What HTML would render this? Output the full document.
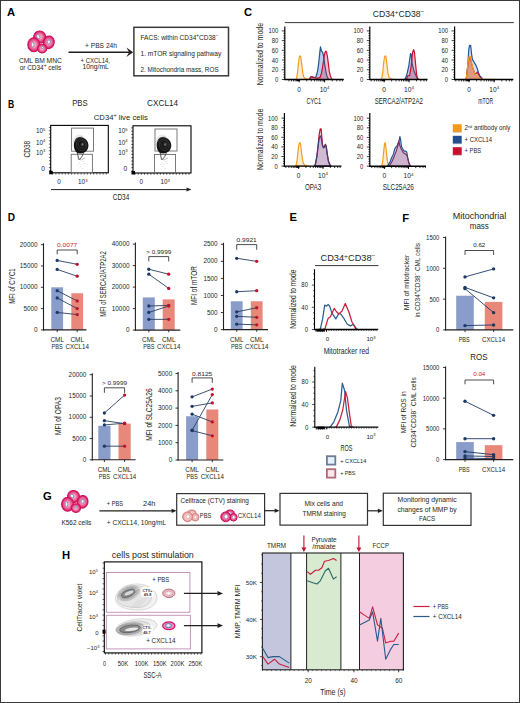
<!DOCTYPE html>
<html><head><meta charset="utf-8"><style>
html,body{margin:0;padding:0;background:#fff;}
svg{display:block;}
text{font-family:"Liberation Sans", sans-serif;}
</style></head><body>
<svg width="520" height="703" viewBox="0 0 520 703">
<defs>
<radialGradient id="cellg" cx="50%" cy="50%" r="50%">
<stop offset="0%" stop-color="#fcd6e4"/><stop offset="50%" stop-color="#f27aa6"/><stop offset="100%" stop-color="#d41462"/>
</radialGradient>
<radialGradient id="cellg2" cx="50%" cy="50%" r="50%">
<stop offset="0%" stop-color="#fff2f0"/><stop offset="60%" stop-color="#f6c4c0"/><stop offset="100%" stop-color="#e08a88"/>
</radialGradient>
</defs>
<rect x="0.5" y="0.5" width="519" height="702" fill="#fff" stroke="#3a3a3a" stroke-width="1"/>
<text x="7.00" y="16.20" font-size="11.2" fill="#000" font-weight="bold" >A</text>
<g transform="rotate(-30 39.70 37.00)">
<ellipse cx="39.70" cy="37.00" rx="6.00" ry="6.00" fill="url(#cellg)" stroke="#d0105a" stroke-width="1.10"/>
<ellipse cx="38.70" cy="35.90" rx="1.50" ry="2.20" fill="#f4f6ff" stroke="#7080a8" stroke-width="0.80"/>
</g>
<g transform="rotate(10 48.80 42.30)">
<ellipse cx="48.80" cy="42.30" rx="5.40" ry="6.30" fill="url(#cellg)" stroke="#d0105a" stroke-width="1.10"/>
<ellipse cx="48.70" cy="41.90" rx="1.60" ry="2.00" fill="#f4f6ff" stroke="#7080a8" stroke-width="0.80"/>
</g>
<g transform="rotate(0 33.80 44.70)">
<ellipse cx="33.80" cy="44.70" rx="6.00" ry="7.00" fill="url(#cellg)" stroke="#d0105a" stroke-width="1.10"/>
<ellipse cx="32.70" cy="44.70" rx="1.40" ry="2.40" fill="#f4f6ff" stroke="#7080a8" stroke-width="0.80"/>
</g>
<g transform="rotate(0 42.10 48.60)">
<ellipse cx="42.10" cy="48.60" rx="4.60" ry="4.40" fill="url(#cellg)" stroke="#d0105a" stroke-width="1.10"/>
<ellipse cx="42.30" cy="47.50" rx="1.10" ry="1.10" fill="#f4f6ff" stroke="#7080a8" stroke-width="0.80"/>
</g>
<text x="40.40" y="63.00" font-size="6.6" fill="#231f20" text-anchor="middle" textLength="43" lengthAdjust="spacingAndGlyphs" >CML BM MNC</text>
<text x="40.40" y="70.20" font-size="6.6" fill="#231f20" text-anchor="middle" textLength="41.5" lengthAdjust="spacingAndGlyphs" >or CD34<tspan font-size="4.8" dy="-2.9">+</tspan><tspan dy="2.9"> cells</tspan></text>
<line x1="68.50" y1="52.20" x2="129.30" y2="52.20" stroke="#231f20" stroke-width="1.4" />
<path d="M133.20,52.20 L126.37,47.52 L129.17,52.20 L126.37,56.88 Z" fill="#231f20" stroke="none" stroke-width="1" />
<text x="85.00" y="48.00" font-size="6.6" fill="#231f20" textLength="32" lengthAdjust="spacingAndGlyphs" >+ PBS  24h</text>
<text x="80.50" y="62.90" font-size="6.6" fill="#231f20" textLength="29.5" lengthAdjust="spacingAndGlyphs" >+ CXCL14,</text>
<text x="82.50" y="69.20" font-size="6.6" fill="#231f20" textLength="26.3" lengthAdjust="spacingAndGlyphs" >10ng/mL</text>
<rect x="133.90" y="27.30" width="94.60" height="48.50" fill="#fff" stroke="#3a3a3a" stroke-width="1.5" />
<text x="140.50" y="40.10" font-size="6.6" fill="#231f20" textLength="78" lengthAdjust="spacingAndGlyphs" >FACS: within CD34<tspan font-size="4.8" dy="-2.9">+</tspan><tspan dy="2.9">CD38</tspan><tspan font-size="4.8" dy="-2.9">−</tspan></text>
<text x="140.50" y="55.90" font-size="6.6" fill="#231f20" textLength="80.7" lengthAdjust="spacingAndGlyphs" >1. mTOR signaling pathway</text>
<text x="140.50" y="71.60" font-size="6.6" fill="#231f20" textLength="78.2" lengthAdjust="spacingAndGlyphs" >2. Mitochondria mass, ROS</text>
<text x="7.90" y="108.30" font-size="11.2" fill="#000" font-weight="bold" textLength="6.2" lengthAdjust="spacingAndGlyphs" >B</text>
<text x="79.90" y="106.30" font-size="8.6" fill="#231f20" text-anchor="middle" textLength="15.5" lengthAdjust="spacingAndGlyphs" >PBS</text>
<text x="162.60" y="106.30" font-size="8.6" fill="#231f20" text-anchor="middle" textLength="31" lengthAdjust="spacingAndGlyphs" >CXCL14</text>
<text x="93.80" y="119.60" font-size="7.0" fill="#231f20" textLength="54" lengthAdjust="spacingAndGlyphs" >CD34<tspan font-size="4.8" dy="-2.8">+</tspan><tspan dy="2.8"> live cells</tspan></text>
<rect x="50.70" y="125.40" width="57.60" height="47.40" fill="#fff" stroke="#000" stroke-width="1.1" />
<line x1="48.90" y1="127.40" x2="50.70" y2="127.40" stroke="#000" stroke-width="0.6" />
<line x1="48.90" y1="130.74" x2="50.70" y2="130.74" stroke="#000" stroke-width="0.6" />
<line x1="48.90" y1="134.08" x2="50.70" y2="134.08" stroke="#000" stroke-width="0.6" />
<line x1="48.90" y1="137.42" x2="50.70" y2="137.42" stroke="#000" stroke-width="0.6" />
<line x1="48.90" y1="140.75" x2="50.70" y2="140.75" stroke="#000" stroke-width="0.6" />
<line x1="48.90" y1="144.09" x2="50.70" y2="144.09" stroke="#000" stroke-width="0.6" />
<line x1="48.90" y1="147.43" x2="50.70" y2="147.43" stroke="#000" stroke-width="0.6" />
<line x1="48.90" y1="150.77" x2="50.70" y2="150.77" stroke="#000" stroke-width="0.6" />
<line x1="48.90" y1="154.11" x2="50.70" y2="154.11" stroke="#000" stroke-width="0.6" />
<line x1="48.90" y1="157.45" x2="50.70" y2="157.45" stroke="#000" stroke-width="0.6" />
<line x1="48.90" y1="160.78" x2="50.70" y2="160.78" stroke="#000" stroke-width="0.6" />
<line x1="48.90" y1="164.12" x2="50.70" y2="164.12" stroke="#000" stroke-width="0.6" />
<line x1="48.90" y1="167.46" x2="50.70" y2="167.46" stroke="#000" stroke-width="0.6" />
<line x1="48.90" y1="170.80" x2="50.70" y2="170.80" stroke="#000" stroke-width="0.6" />
<line x1="52.70" y1="172.80" x2="52.70" y2="174.60" stroke="#000" stroke-width="0.6" />
<line x1="55.85" y1="172.80" x2="55.85" y2="174.60" stroke="#000" stroke-width="0.6" />
<line x1="59.01" y1="172.80" x2="59.01" y2="174.60" stroke="#000" stroke-width="0.6" />
<line x1="62.16" y1="172.80" x2="62.16" y2="174.60" stroke="#000" stroke-width="0.6" />
<line x1="65.31" y1="172.80" x2="65.31" y2="174.60" stroke="#000" stroke-width="0.6" />
<line x1="68.46" y1="172.80" x2="68.46" y2="174.60" stroke="#000" stroke-width="0.6" />
<line x1="71.62" y1="172.80" x2="71.62" y2="174.60" stroke="#000" stroke-width="0.6" />
<line x1="74.77" y1="172.80" x2="74.77" y2="174.60" stroke="#000" stroke-width="0.6" />
<line x1="77.92" y1="172.80" x2="77.92" y2="174.60" stroke="#000" stroke-width="0.6" />
<line x1="81.08" y1="172.80" x2="81.08" y2="174.60" stroke="#000" stroke-width="0.6" />
<line x1="84.23" y1="172.80" x2="84.23" y2="174.60" stroke="#000" stroke-width="0.6" />
<line x1="87.38" y1="172.80" x2="87.38" y2="174.60" stroke="#000" stroke-width="0.6" />
<line x1="90.54" y1="172.80" x2="90.54" y2="174.60" stroke="#000" stroke-width="0.6" />
<line x1="93.69" y1="172.80" x2="93.69" y2="174.60" stroke="#000" stroke-width="0.6" />
<line x1="96.84" y1="172.80" x2="96.84" y2="174.60" stroke="#000" stroke-width="0.6" />
<line x1="99.99" y1="172.80" x2="99.99" y2="174.60" stroke="#000" stroke-width="0.6" />
<line x1="103.15" y1="172.80" x2="103.15" y2="174.60" stroke="#000" stroke-width="0.6" />
<line x1="106.30" y1="172.80" x2="106.30" y2="174.60" stroke="#000" stroke-width="0.6" />
<rect x="49.20" y="170.80" width="3.50" height="3.50" fill="#000" stroke="none" stroke-width="1" />
<rect x="71.60" y="128.10" width="21.90" height="23.10" fill="none" stroke="#6d6d6d" stroke-width="0.9" />
<rect x="71.20" y="154.30" width="21.20" height="18.20" fill="none" stroke="#6d6d6d" stroke-width="0.9" />
<ellipse cx="80.7" cy="142.9" rx="6.4" ry="8.3" fill="#f0f0f0" stroke="#d0d0d0" stroke-width="0.4" transform="rotate(-15 81.2 145.4)"/>
<path d="M77.2,151.4 Q78.2,158.4 79.2,159.9 Q82.2,157.4 83.7,152.4" stroke="#444" stroke-width="0.9" fill="none"/>
<path d="M77.7,158.9 Q81.2,161.4 85.2,157.9" stroke="#888" stroke-width="0.6" fill="none"/>
<circle cx="79.20" cy="162.40" r="0.35" fill="#999" />
<circle cx="81.20" cy="164.40" r="0.35" fill="#999" />
<circle cx="83.20" cy="161.40" r="0.35" fill="#999" />
<circle cx="80.20" cy="166.40" r="0.35" fill="#999" />
<circle cx="84.20" cy="163.40" r="0.35" fill="#999" />
<circle cx="78.20" cy="164.40" r="0.35" fill="#999" />
<circle cx="82.20" cy="168.40" r="0.35" fill="#999" />
<path d="M76.7,137.9 C80.2,135.4 87.7,138.4 88.4,144.4 C89.0,149.4 85.2,153.4 80.2,153.4 C75.2,153.4 73.7,148.4 73.9,144.4 C74.2,141.4 75.2,138.9 76.7,137.9 Z" fill="#141414"/>
<ellipse cx="81.7" cy="144.9" rx="5.0" ry="5.8" fill="none" stroke="#555" stroke-width="0.45" transform="rotate(-20 81.2 145.4)"/>
<ellipse cx="82.0" cy="144.6" rx="3.4" ry="4.0" fill="none" stroke="#4a4a4a" stroke-width="0.45" transform="rotate(-20 81.2 145.4)"/>
<ellipse cx="82.4" cy="144.4" rx="1.8" ry="2.1" fill="#3a3a3a"/>
<ellipse cx="82.4" cy="144.4" rx="0.8" ry="0.9" fill="#777"/>
<path d="M74.7,142.4 Q77.2,136.4 82.2,136.9" stroke="#777" stroke-width="0.5" fill="none"/>
<rect x="133.00" y="125.80" width="58.00" height="47.20" fill="#fff" stroke="#000" stroke-width="1.1" />
<line x1="131.20" y1="127.80" x2="133.00" y2="127.80" stroke="#000" stroke-width="0.6" />
<line x1="131.20" y1="131.12" x2="133.00" y2="131.12" stroke="#000" stroke-width="0.6" />
<line x1="131.20" y1="134.45" x2="133.00" y2="134.45" stroke="#000" stroke-width="0.6" />
<line x1="131.20" y1="137.77" x2="133.00" y2="137.77" stroke="#000" stroke-width="0.6" />
<line x1="131.20" y1="141.09" x2="133.00" y2="141.09" stroke="#000" stroke-width="0.6" />
<line x1="131.20" y1="144.42" x2="133.00" y2="144.42" stroke="#000" stroke-width="0.6" />
<line x1="131.20" y1="147.74" x2="133.00" y2="147.74" stroke="#000" stroke-width="0.6" />
<line x1="131.20" y1="151.06" x2="133.00" y2="151.06" stroke="#000" stroke-width="0.6" />
<line x1="131.20" y1="154.38" x2="133.00" y2="154.38" stroke="#000" stroke-width="0.6" />
<line x1="131.20" y1="157.71" x2="133.00" y2="157.71" stroke="#000" stroke-width="0.6" />
<line x1="131.20" y1="161.03" x2="133.00" y2="161.03" stroke="#000" stroke-width="0.6" />
<line x1="131.20" y1="164.35" x2="133.00" y2="164.35" stroke="#000" stroke-width="0.6" />
<line x1="131.20" y1="167.68" x2="133.00" y2="167.68" stroke="#000" stroke-width="0.6" />
<line x1="131.20" y1="171.00" x2="133.00" y2="171.00" stroke="#000" stroke-width="0.6" />
<line x1="135.00" y1="173.00" x2="135.00" y2="174.80" stroke="#000" stroke-width="0.6" />
<line x1="138.18" y1="173.00" x2="138.18" y2="174.80" stroke="#000" stroke-width="0.6" />
<line x1="141.35" y1="173.00" x2="141.35" y2="174.80" stroke="#000" stroke-width="0.6" />
<line x1="144.53" y1="173.00" x2="144.53" y2="174.80" stroke="#000" stroke-width="0.6" />
<line x1="147.71" y1="173.00" x2="147.71" y2="174.80" stroke="#000" stroke-width="0.6" />
<line x1="150.88" y1="173.00" x2="150.88" y2="174.80" stroke="#000" stroke-width="0.6" />
<line x1="154.06" y1="173.00" x2="154.06" y2="174.80" stroke="#000" stroke-width="0.6" />
<line x1="157.24" y1="173.00" x2="157.24" y2="174.80" stroke="#000" stroke-width="0.6" />
<line x1="160.41" y1="173.00" x2="160.41" y2="174.80" stroke="#000" stroke-width="0.6" />
<line x1="163.59" y1="173.00" x2="163.59" y2="174.80" stroke="#000" stroke-width="0.6" />
<line x1="166.76" y1="173.00" x2="166.76" y2="174.80" stroke="#000" stroke-width="0.6" />
<line x1="169.94" y1="173.00" x2="169.94" y2="174.80" stroke="#000" stroke-width="0.6" />
<line x1="173.12" y1="173.00" x2="173.12" y2="174.80" stroke="#000" stroke-width="0.6" />
<line x1="176.29" y1="173.00" x2="176.29" y2="174.80" stroke="#000" stroke-width="0.6" />
<line x1="179.47" y1="173.00" x2="179.47" y2="174.80" stroke="#000" stroke-width="0.6" />
<line x1="182.65" y1="173.00" x2="182.65" y2="174.80" stroke="#000" stroke-width="0.6" />
<line x1="185.82" y1="173.00" x2="185.82" y2="174.80" stroke="#000" stroke-width="0.6" />
<line x1="189.00" y1="173.00" x2="189.00" y2="174.80" stroke="#000" stroke-width="0.6" />
<rect x="131.50" y="171.00" width="3.50" height="3.50" fill="#000" stroke="none" stroke-width="1" />
<rect x="155.00" y="129.00" width="22.00" height="22.00" fill="none" stroke="#6d6d6d" stroke-width="0.9" />
<rect x="154.50" y="154.50" width="21.00" height="18.00" fill="none" stroke="#6d6d6d" stroke-width="0.9" />
<ellipse cx="163.5" cy="142.9" rx="6.4" ry="8.3" fill="#f0f0f0" stroke="#d0d0d0" stroke-width="0.4" transform="rotate(-15 164.0 145.4)"/>
<path d="M160.0,151.4 Q161.0,158.4 162.0,159.9 Q165.0,157.4 166.5,152.4" stroke="#444" stroke-width="0.9" fill="none"/>
<path d="M160.5,158.9 Q164.0,161.4 168.0,157.9" stroke="#888" stroke-width="0.6" fill="none"/>
<circle cx="162.00" cy="162.40" r="0.35" fill="#999" />
<circle cx="164.00" cy="164.40" r="0.35" fill="#999" />
<circle cx="166.00" cy="161.40" r="0.35" fill="#999" />
<circle cx="163.00" cy="166.40" r="0.35" fill="#999" />
<circle cx="167.00" cy="163.40" r="0.35" fill="#999" />
<circle cx="161.00" cy="164.40" r="0.35" fill="#999" />
<circle cx="165.00" cy="168.40" r="0.35" fill="#999" />
<path d="M159.5,137.9 C163.0,135.4 170.5,138.4 171.2,144.4 C171.8,149.4 168.0,153.4 163.0,153.4 C158.0,153.4 156.5,148.4 156.7,144.4 C157.0,141.4 158.0,138.9 159.5,137.9 Z" fill="#141414"/>
<ellipse cx="164.5" cy="144.9" rx="5.0" ry="5.8" fill="none" stroke="#555" stroke-width="0.45" transform="rotate(-20 164.0 145.4)"/>
<ellipse cx="164.8" cy="144.6" rx="3.4" ry="4.0" fill="none" stroke="#4a4a4a" stroke-width="0.45" transform="rotate(-20 164.0 145.4)"/>
<ellipse cx="165.2" cy="144.4" rx="1.8" ry="2.1" fill="#3a3a3a"/>
<ellipse cx="165.2" cy="144.4" rx="0.8" ry="0.9" fill="#777"/>
<path d="M157.5,142.4 Q160.0,136.4 165.0,136.9" stroke="#777" stroke-width="0.5" fill="none"/>
<text x="35.90" y="133.30" font-size="6.3" fill="#231f20" >10<tspan font-size="4.2" dy="-2.6">5</tspan></text>
<text x="35.90" y="144.70" font-size="6.3" fill="#231f20" >10<tspan font-size="4.2" dy="-2.6">4</tspan></text>
<text x="35.90" y="154.90" font-size="6.3" fill="#231f20" >10<tspan font-size="4.2" dy="-2.6">3</tspan></text>
<text x="44.80" y="171.40" font-size="6.6" fill="#231f20" text-anchor="end" >0</text>
<text x="118.20" y="133.30" font-size="6.3" fill="#231f20" >10<tspan font-size="4.2" dy="-2.6">5</tspan></text>
<text x="118.20" y="144.70" font-size="6.3" fill="#231f20" >10<tspan font-size="4.2" dy="-2.6">4</tspan></text>
<text x="118.20" y="154.90" font-size="6.3" fill="#231f20" >10<tspan font-size="4.2" dy="-2.6">3</tspan></text>
<text x="127.10" y="171.40" font-size="6.6" fill="#231f20" text-anchor="end" >0</text>
<text x="59.00" y="184.40" font-size="6.4" fill="#231f20" text-anchor="middle" >0</text>
<text x="82.80" y="184.40" font-size="6.3" fill="#231f20" text-anchor="middle" >10<tspan font-size="4.2" dy="-2.6">3</tspan></text>
<text x="141.30" y="184.40" font-size="6.4" fill="#231f20" text-anchor="middle" >0</text>
<text x="165.10" y="184.40" font-size="6.3" fill="#231f20" text-anchor="middle" >10<tspan font-size="4.2" dy="-2.6">3</tspan></text>
<text x="29.70" y="149.20" font-size="9.2" fill="#231f20" text-anchor="middle" textLength="16.8" lengthAdjust="spacingAndGlyphs" transform="rotate(-90 29.70 149.20)" >CD38</text>
<line x1="51.00" y1="189.60" x2="186.80" y2="189.60" stroke="#231f20" stroke-width="1.0" />
<path d="M191.50,189.60 L186.50,187.60 L186.50,191.60 Z" fill="#231f20" stroke="none" stroke-width="1" />
<text x="121.00" y="200.20" font-size="8.5" fill="#231f20" text-anchor="middle" textLength="16.5" lengthAdjust="spacingAndGlyphs" >CD34</text>
<text x="244.00" y="16.10" font-size="11.2" fill="#000" font-weight="bold" >C</text>
<text x="398.50" y="17.20" font-size="8.6" fill="#231f20" text-anchor="middle" textLength="51.5" lengthAdjust="spacingAndGlyphs" >CD34<tspan font-size="6.2" dy="-3">+</tspan><tspan dy="3">CD38</tspan><tspan font-size="6.2" dy="-3">−</tspan></text>
<line x1="284.80" y1="22.60" x2="513.80" y2="22.60" stroke="#231f20" stroke-width="0.9" />
<path d="M295.70,79.50 L295.70,79.50 L296.60,78.04 L297.50,72.70 L298.40,63.46 L299.30,57.14 L300.10,55.69 L300.90,57.63 L301.80,64.92 L302.80,73.18 L303.80,77.07 L305.20,78.53 L307.00,79.11 L309.00,79.50 L309.00,79.50 Z" fill="rgba(243,156,31,0.20)" stroke="#f39c1f" stroke-width="1.2" stroke-linejoin="round"/>
<path d="M309.00,79.50 L309.00,79.50 L311.10,76.58 L313.10,77.07 L315.10,77.31 L315.70,77.22 L316.80,74.30 L318.00,68.52 L319.10,59.28 L320.00,50.68 L320.50,46.89 L321.20,50.10 L321.80,51.51 L322.30,51.80 L322.90,53.01 L323.80,57.00 L324.60,63.95 L325.80,70.90 L326.90,76.00 L328.10,78.38 L329.00,79.50 L329.00,79.50 Z" fill="rgba(70,120,195,0.38)" stroke="#1f5597" stroke-width="1.2" stroke-linejoin="round"/>
<path d="M309.00,79.50 L309.00,79.50 L311.10,76.58 L313.10,77.31 L316.00,78.04 L318.00,78.04 L320.00,77.41 L321.20,74.30 L322.30,68.52 L323.50,61.03 L324.30,55.30 L325.20,51.80 L325.90,51.21 L326.60,52.38 L327.50,57.00 L328.40,63.95 L329.20,70.90 L330.40,76.00 L331.50,78.63 L332.50,79.50 L332.50,79.50 Z" fill="rgba(205,40,80,0.30)" stroke="#c8102e" stroke-width="1.2" stroke-linejoin="round"/>
<line x1="284.80" y1="26.50" x2="284.80" y2="80.10" stroke="#000" stroke-width="1.2" />
<line x1="284.20" y1="79.50" x2="343.80" y2="79.50" stroke="#000" stroke-width="1.4" />
<line x1="281.80" y1="79.50" x2="284.80" y2="79.50" stroke="#000" stroke-width="0.75" />
<line x1="283.40" y1="77.07" x2="284.80" y2="77.07" stroke="#000" stroke-width="0.75" />
<line x1="283.40" y1="74.64" x2="284.80" y2="74.64" stroke="#000" stroke-width="0.75" />
<line x1="283.40" y1="72.21" x2="284.80" y2="72.21" stroke="#000" stroke-width="0.75" />
<line x1="281.80" y1="69.78" x2="284.80" y2="69.78" stroke="#000" stroke-width="0.75" />
<line x1="283.40" y1="67.35" x2="284.80" y2="67.35" stroke="#000" stroke-width="0.75" />
<line x1="283.40" y1="64.92" x2="284.80" y2="64.92" stroke="#000" stroke-width="0.75" />
<line x1="283.40" y1="62.49" x2="284.80" y2="62.49" stroke="#000" stroke-width="0.75" />
<line x1="281.80" y1="60.06" x2="284.80" y2="60.06" stroke="#000" stroke-width="0.75" />
<line x1="283.40" y1="57.63" x2="284.80" y2="57.63" stroke="#000" stroke-width="0.75" />
<line x1="283.40" y1="55.20" x2="284.80" y2="55.20" stroke="#000" stroke-width="0.75" />
<line x1="283.40" y1="52.77" x2="284.80" y2="52.77" stroke="#000" stroke-width="0.75" />
<line x1="281.80" y1="50.34" x2="284.80" y2="50.34" stroke="#000" stroke-width="0.75" />
<line x1="283.40" y1="47.91" x2="284.80" y2="47.91" stroke="#000" stroke-width="0.75" />
<line x1="283.40" y1="45.48" x2="284.80" y2="45.48" stroke="#000" stroke-width="0.75" />
<line x1="283.40" y1="43.05" x2="284.80" y2="43.05" stroke="#000" stroke-width="0.75" />
<line x1="281.80" y1="40.62" x2="284.80" y2="40.62" stroke="#000" stroke-width="0.75" />
<line x1="283.40" y1="38.19" x2="284.80" y2="38.19" stroke="#000" stroke-width="0.75" />
<line x1="283.40" y1="35.76" x2="284.80" y2="35.76" stroke="#000" stroke-width="0.75" />
<line x1="283.40" y1="33.33" x2="284.80" y2="33.33" stroke="#000" stroke-width="0.75" />
<line x1="281.80" y1="30.90" x2="284.80" y2="30.90" stroke="#000" stroke-width="0.75" />
<line x1="288.95" y1="79.50" x2="288.95" y2="81.40" stroke="#000" stroke-width="0.8" />
<line x1="291.42" y1="79.50" x2="291.42" y2="81.40" stroke="#000" stroke-width="0.8" />
<line x1="293.44" y1="79.50" x2="293.44" y2="81.40" stroke="#000" stroke-width="0.8" />
<line x1="295.15" y1="79.50" x2="295.15" y2="81.40" stroke="#000" stroke-width="0.8" />
<line x1="296.63" y1="79.50" x2="296.63" y2="81.40" stroke="#000" stroke-width="0.8" />
<line x1="297.93" y1="79.50" x2="297.93" y2="81.40" stroke="#000" stroke-width="0.8" />
<line x1="299.10" y1="79.50" x2="299.10" y2="81.40" stroke="#000" stroke-width="0.8" />
<line x1="306.78" y1="79.50" x2="306.78" y2="81.40" stroke="#000" stroke-width="0.8" />
<line x1="311.27" y1="79.50" x2="311.27" y2="81.40" stroke="#000" stroke-width="0.8" />
<line x1="314.45" y1="79.50" x2="314.45" y2="81.40" stroke="#000" stroke-width="0.8" />
<line x1="316.92" y1="79.50" x2="316.92" y2="81.40" stroke="#000" stroke-width="0.8" />
<line x1="318.94" y1="79.50" x2="318.94" y2="81.40" stroke="#000" stroke-width="0.8" />
<line x1="320.65" y1="79.50" x2="320.65" y2="81.40" stroke="#000" stroke-width="0.8" />
<line x1="322.13" y1="79.50" x2="322.13" y2="81.40" stroke="#000" stroke-width="0.8" />
<line x1="323.43" y1="79.50" x2="323.43" y2="81.40" stroke="#000" stroke-width="0.8" />
<line x1="324.60" y1="79.50" x2="324.60" y2="81.40" stroke="#000" stroke-width="0.8" />
<line x1="332.28" y1="79.50" x2="332.28" y2="81.40" stroke="#000" stroke-width="0.8" />
<line x1="336.77" y1="79.50" x2="336.77" y2="81.40" stroke="#000" stroke-width="0.8" />
<line x1="339.95" y1="79.50" x2="339.95" y2="81.40" stroke="#000" stroke-width="0.8" />
<line x1="342.42" y1="79.50" x2="342.42" y2="81.40" stroke="#000" stroke-width="0.8" />
<line x1="299.10" y1="79.50" x2="299.10" y2="82.30" stroke="#000" stroke-width="0.9" />
<line x1="324.60" y1="79.50" x2="324.60" y2="82.30" stroke="#000" stroke-width="0.9" />
<rect x="296.90" y="79.20" width="3.20" height="1.80" fill="#000" stroke="none" stroke-width="1" />
<text x="278.20" y="81.95" font-size="6.8" fill="#231f20" text-anchor="end" textLength="3.27" lengthAdjust="spacingAndGlyphs" >0</text>
<text x="278.20" y="72.23" font-size="6.8" fill="#231f20" text-anchor="end" textLength="6.54" lengthAdjust="spacingAndGlyphs" >20</text>
<text x="278.20" y="62.51" font-size="6.8" fill="#231f20" text-anchor="end" textLength="6.54" lengthAdjust="spacingAndGlyphs" >40</text>
<text x="278.20" y="52.79" font-size="6.8" fill="#231f20" text-anchor="end" textLength="6.54" lengthAdjust="spacingAndGlyphs" >60</text>
<text x="278.20" y="43.07" font-size="6.8" fill="#231f20" text-anchor="end" textLength="6.54" lengthAdjust="spacingAndGlyphs" >80</text>
<text x="278.20" y="33.35" font-size="6.8" fill="#231f20" text-anchor="end" textLength="9.81" lengthAdjust="spacingAndGlyphs" >100</text>
<text x="299.10" y="91.50" font-size="6.6" fill="#231f20" text-anchor="middle" >0</text>
<text x="324.60" y="91.50" font-size="6.6" fill="#231f20" text-anchor="middle" >10<tspan font-size="4.4" dy="-2.7">4</tspan></text>
<text x="313.80" y="103.50" font-size="8.6" fill="#231f20" text-anchor="middle" textLength="14.8" lengthAdjust="spacingAndGlyphs" >CYC1</text>
<path d="M380.90,79.50 L380.90,79.50 L381.80,78.04 L382.70,72.70 L383.60,63.46 L384.50,57.14 L385.30,55.69 L386.10,57.63 L387.00,64.92 L388.00,73.18 L389.00,77.07 L390.40,78.53 L392.20,79.11 L394.20,79.50 L394.20,79.50 Z" fill="rgba(243,156,31,0.20)" stroke="#f39c1f" stroke-width="1.2" stroke-linejoin="round"/>
<path d="M404.50,79.50 L404.50,79.50 L405.40,78.53 L406.80,74.69 L408.80,66.04 L410.50,53.50 L411.20,54.23 L412.10,63.32 L414.00,70.90 L416.00,75.81 L417.40,78.53 L418.50,79.50 L418.50,79.50 Z" fill="rgba(70,120,195,0.38)" stroke="#1f5597" stroke-width="1.2" stroke-linejoin="round"/>
<path d="M405.50,79.50 L405.50,79.50 L406.80,78.53 L407.80,75.81 L409.70,75.32 L411.20,66.04 L412.60,52.53 L413.60,49.61 L414.50,52.53 L415.50,63.32 L416.50,73.28 L417.40,78.04 L418.50,79.50 L418.50,79.50 Z" fill="rgba(205,40,80,0.30)" stroke="#c8102e" stroke-width="1.2" stroke-linejoin="round"/>
<line x1="369.80" y1="26.50" x2="369.80" y2="80.10" stroke="#000" stroke-width="1.2" />
<line x1="369.20" y1="79.50" x2="427.50" y2="79.50" stroke="#000" stroke-width="1.4" />
<line x1="366.80" y1="79.50" x2="369.80" y2="79.50" stroke="#000" stroke-width="0.75" />
<line x1="368.40" y1="77.07" x2="369.80" y2="77.07" stroke="#000" stroke-width="0.75" />
<line x1="368.40" y1="74.64" x2="369.80" y2="74.64" stroke="#000" stroke-width="0.75" />
<line x1="368.40" y1="72.21" x2="369.80" y2="72.21" stroke="#000" stroke-width="0.75" />
<line x1="366.80" y1="69.78" x2="369.80" y2="69.78" stroke="#000" stroke-width="0.75" />
<line x1="368.40" y1="67.35" x2="369.80" y2="67.35" stroke="#000" stroke-width="0.75" />
<line x1="368.40" y1="64.92" x2="369.80" y2="64.92" stroke="#000" stroke-width="0.75" />
<line x1="368.40" y1="62.49" x2="369.80" y2="62.49" stroke="#000" stroke-width="0.75" />
<line x1="366.80" y1="60.06" x2="369.80" y2="60.06" stroke="#000" stroke-width="0.75" />
<line x1="368.40" y1="57.63" x2="369.80" y2="57.63" stroke="#000" stroke-width="0.75" />
<line x1="368.40" y1="55.20" x2="369.80" y2="55.20" stroke="#000" stroke-width="0.75" />
<line x1="368.40" y1="52.77" x2="369.80" y2="52.77" stroke="#000" stroke-width="0.75" />
<line x1="366.80" y1="50.34" x2="369.80" y2="50.34" stroke="#000" stroke-width="0.75" />
<line x1="368.40" y1="47.91" x2="369.80" y2="47.91" stroke="#000" stroke-width="0.75" />
<line x1="368.40" y1="45.48" x2="369.80" y2="45.48" stroke="#000" stroke-width="0.75" />
<line x1="368.40" y1="43.05" x2="369.80" y2="43.05" stroke="#000" stroke-width="0.75" />
<line x1="366.80" y1="40.62" x2="369.80" y2="40.62" stroke="#000" stroke-width="0.75" />
<line x1="368.40" y1="38.19" x2="369.80" y2="38.19" stroke="#000" stroke-width="0.75" />
<line x1="368.40" y1="35.76" x2="369.80" y2="35.76" stroke="#000" stroke-width="0.75" />
<line x1="368.40" y1="33.33" x2="369.80" y2="33.33" stroke="#000" stroke-width="0.75" />
<line x1="366.80" y1="30.90" x2="369.80" y2="30.90" stroke="#000" stroke-width="0.75" />
<line x1="371.23" y1="79.50" x2="371.23" y2="81.40" stroke="#000" stroke-width="0.8" />
<line x1="374.33" y1="79.50" x2="374.33" y2="81.40" stroke="#000" stroke-width="0.8" />
<line x1="376.73" y1="79.50" x2="376.73" y2="81.40" stroke="#000" stroke-width="0.8" />
<line x1="378.70" y1="79.50" x2="378.70" y2="81.40" stroke="#000" stroke-width="0.8" />
<line x1="380.36" y1="79.50" x2="380.36" y2="81.40" stroke="#000" stroke-width="0.8" />
<line x1="381.80" y1="79.50" x2="381.80" y2="81.40" stroke="#000" stroke-width="0.8" />
<line x1="383.07" y1="79.50" x2="383.07" y2="81.40" stroke="#000" stroke-width="0.8" />
<line x1="384.20" y1="79.50" x2="384.20" y2="81.40" stroke="#000" stroke-width="0.8" />
<line x1="391.67" y1="79.50" x2="391.67" y2="81.40" stroke="#000" stroke-width="0.8" />
<line x1="396.03" y1="79.50" x2="396.03" y2="81.40" stroke="#000" stroke-width="0.8" />
<line x1="399.13" y1="79.50" x2="399.13" y2="81.40" stroke="#000" stroke-width="0.8" />
<line x1="401.53" y1="79.50" x2="401.53" y2="81.40" stroke="#000" stroke-width="0.8" />
<line x1="403.50" y1="79.50" x2="403.50" y2="81.40" stroke="#000" stroke-width="0.8" />
<line x1="405.16" y1="79.50" x2="405.16" y2="81.40" stroke="#000" stroke-width="0.8" />
<line x1="406.60" y1="79.50" x2="406.60" y2="81.40" stroke="#000" stroke-width="0.8" />
<line x1="407.87" y1="79.50" x2="407.87" y2="81.40" stroke="#000" stroke-width="0.8" />
<line x1="409.00" y1="79.50" x2="409.00" y2="81.40" stroke="#000" stroke-width="0.8" />
<line x1="416.47" y1="79.50" x2="416.47" y2="81.40" stroke="#000" stroke-width="0.8" />
<line x1="420.83" y1="79.50" x2="420.83" y2="81.40" stroke="#000" stroke-width="0.8" />
<line x1="423.93" y1="79.50" x2="423.93" y2="81.40" stroke="#000" stroke-width="0.8" />
<line x1="426.33" y1="79.50" x2="426.33" y2="81.40" stroke="#000" stroke-width="0.8" />
<line x1="384.20" y1="79.50" x2="384.20" y2="82.30" stroke="#000" stroke-width="0.9" />
<line x1="409.00" y1="79.50" x2="409.00" y2="82.30" stroke="#000" stroke-width="0.9" />
<rect x="382.00" y="79.20" width="3.20" height="1.80" fill="#000" stroke="none" stroke-width="1" />
<text x="363.20" y="81.95" font-size="6.8" fill="#231f20" text-anchor="end" textLength="3.27" lengthAdjust="spacingAndGlyphs" >0</text>
<text x="363.20" y="72.23" font-size="6.8" fill="#231f20" text-anchor="end" textLength="6.54" lengthAdjust="spacingAndGlyphs" >20</text>
<text x="363.20" y="62.51" font-size="6.8" fill="#231f20" text-anchor="end" textLength="6.54" lengthAdjust="spacingAndGlyphs" >40</text>
<text x="363.20" y="52.79" font-size="6.8" fill="#231f20" text-anchor="end" textLength="6.54" lengthAdjust="spacingAndGlyphs" >60</text>
<text x="363.20" y="43.07" font-size="6.8" fill="#231f20" text-anchor="end" textLength="6.54" lengthAdjust="spacingAndGlyphs" >80</text>
<text x="363.20" y="33.35" font-size="6.8" fill="#231f20" text-anchor="end" textLength="9.81" lengthAdjust="spacingAndGlyphs" >100</text>
<text x="384.20" y="91.50" font-size="6.6" fill="#231f20" text-anchor="middle" >0</text>
<text x="409.00" y="91.50" font-size="6.6" fill="#231f20" text-anchor="middle" >10<tspan font-size="4.4" dy="-2.7">4</tspan></text>
<text x="398.80" y="103.50" font-size="8.6" fill="#231f20" text-anchor="middle" textLength="48.3" lengthAdjust="spacingAndGlyphs" >SERCA2/ATP2A2</text>
<path d="M465.50,79.50 L465.50,79.50 L466.30,78.43 L467.80,65.21 L468.70,50.83 L469.50,45.33 L470.70,45.63 L471.50,53.60 L472.40,59.38 L473.80,61.71 L475.60,64.58 L477.30,68.61 L478.50,72.70 L479.90,76.00 L481.90,78.04 L483.00,79.50 L483.00,79.50 Z" fill="rgba(70,120,195,0.22)" stroke="#1f5597" stroke-width="1.2" stroke-linejoin="round"/>
<path d="M465.50,79.50 L465.50,79.50 L466.30,78.53 L467.80,65.89 L469.20,58.12 L470.40,58.60 L471.30,62.49 L472.40,66.86 L473.80,70.75 L474.70,73.91 L476.70,73.08 L477.30,71.92 L478.50,74.20 L480.20,77.22 L481.50,79.01 L482.50,79.50 L482.50,79.50 Z" fill="rgba(205,40,80,0.30)" stroke="#c8102e" stroke-width="1.1" stroke-linejoin="round"/>
<path d="M465.50,79.50 L465.50,79.50 L466.30,78.53 L467.80,63.95 L469.20,55.88 L470.40,56.51 L471.30,61.03 L472.40,66.28 L473.80,71.48 L475.60,74.98 L477.30,76.68 L479.60,78.43 L482.00,79.01 L490.00,79.26 L500.00,79.50 L500.00,79.50 Z" fill="rgba(240,130,50,0.45)" stroke="#f39c1f" stroke-width="1.1" stroke-linejoin="round"/>
<line x1="454.60" y1="26.50" x2="454.60" y2="80.10" stroke="#000" stroke-width="1.2" />
<line x1="454.00" y1="79.50" x2="513.30" y2="79.50" stroke="#000" stroke-width="1.4" />
<line x1="451.60" y1="79.50" x2="454.60" y2="79.50" stroke="#000" stroke-width="0.75" />
<line x1="453.20" y1="77.07" x2="454.60" y2="77.07" stroke="#000" stroke-width="0.75" />
<line x1="453.20" y1="74.64" x2="454.60" y2="74.64" stroke="#000" stroke-width="0.75" />
<line x1="453.20" y1="72.21" x2="454.60" y2="72.21" stroke="#000" stroke-width="0.75" />
<line x1="451.60" y1="69.78" x2="454.60" y2="69.78" stroke="#000" stroke-width="0.75" />
<line x1="453.20" y1="67.35" x2="454.60" y2="67.35" stroke="#000" stroke-width="0.75" />
<line x1="453.20" y1="64.92" x2="454.60" y2="64.92" stroke="#000" stroke-width="0.75" />
<line x1="453.20" y1="62.49" x2="454.60" y2="62.49" stroke="#000" stroke-width="0.75" />
<line x1="451.60" y1="60.06" x2="454.60" y2="60.06" stroke="#000" stroke-width="0.75" />
<line x1="453.20" y1="57.63" x2="454.60" y2="57.63" stroke="#000" stroke-width="0.75" />
<line x1="453.20" y1="55.20" x2="454.60" y2="55.20" stroke="#000" stroke-width="0.75" />
<line x1="453.20" y1="52.77" x2="454.60" y2="52.77" stroke="#000" stroke-width="0.75" />
<line x1="451.60" y1="50.34" x2="454.60" y2="50.34" stroke="#000" stroke-width="0.75" />
<line x1="453.20" y1="47.91" x2="454.60" y2="47.91" stroke="#000" stroke-width="0.75" />
<line x1="453.20" y1="45.48" x2="454.60" y2="45.48" stroke="#000" stroke-width="0.75" />
<line x1="453.20" y1="43.05" x2="454.60" y2="43.05" stroke="#000" stroke-width="0.75" />
<line x1="451.60" y1="40.62" x2="454.60" y2="40.62" stroke="#000" stroke-width="0.75" />
<line x1="453.20" y1="38.19" x2="454.60" y2="38.19" stroke="#000" stroke-width="0.75" />
<line x1="453.20" y1="35.76" x2="454.60" y2="35.76" stroke="#000" stroke-width="0.75" />
<line x1="453.20" y1="33.33" x2="454.60" y2="33.33" stroke="#000" stroke-width="0.75" />
<line x1="451.60" y1="30.90" x2="454.60" y2="30.90" stroke="#000" stroke-width="0.75" />
<line x1="455.82" y1="79.50" x2="455.82" y2="81.40" stroke="#000" stroke-width="0.8" />
<line x1="458.97" y1="79.50" x2="458.97" y2="81.40" stroke="#000" stroke-width="0.8" />
<line x1="461.41" y1="79.50" x2="461.41" y2="81.40" stroke="#000" stroke-width="0.8" />
<line x1="463.41" y1="79.50" x2="463.41" y2="81.40" stroke="#000" stroke-width="0.8" />
<line x1="465.10" y1="79.50" x2="465.10" y2="81.40" stroke="#000" stroke-width="0.8" />
<line x1="466.56" y1="79.50" x2="466.56" y2="81.40" stroke="#000" stroke-width="0.8" />
<line x1="467.85" y1="79.50" x2="467.85" y2="81.40" stroke="#000" stroke-width="0.8" />
<line x1="469.00" y1="79.50" x2="469.00" y2="81.40" stroke="#000" stroke-width="0.8" />
<line x1="476.59" y1="79.50" x2="476.59" y2="81.40" stroke="#000" stroke-width="0.8" />
<line x1="481.02" y1="79.50" x2="481.02" y2="81.40" stroke="#000" stroke-width="0.8" />
<line x1="484.17" y1="79.50" x2="484.17" y2="81.40" stroke="#000" stroke-width="0.8" />
<line x1="486.61" y1="79.50" x2="486.61" y2="81.40" stroke="#000" stroke-width="0.8" />
<line x1="488.61" y1="79.50" x2="488.61" y2="81.40" stroke="#000" stroke-width="0.8" />
<line x1="490.30" y1="79.50" x2="490.30" y2="81.40" stroke="#000" stroke-width="0.8" />
<line x1="491.76" y1="79.50" x2="491.76" y2="81.40" stroke="#000" stroke-width="0.8" />
<line x1="493.05" y1="79.50" x2="493.05" y2="81.40" stroke="#000" stroke-width="0.8" />
<line x1="494.20" y1="79.50" x2="494.20" y2="81.40" stroke="#000" stroke-width="0.8" />
<line x1="501.79" y1="79.50" x2="501.79" y2="81.40" stroke="#000" stroke-width="0.8" />
<line x1="506.22" y1="79.50" x2="506.22" y2="81.40" stroke="#000" stroke-width="0.8" />
<line x1="509.37" y1="79.50" x2="509.37" y2="81.40" stroke="#000" stroke-width="0.8" />
<line x1="511.81" y1="79.50" x2="511.81" y2="81.40" stroke="#000" stroke-width="0.8" />
<line x1="469.00" y1="79.50" x2="469.00" y2="82.30" stroke="#000" stroke-width="0.9" />
<line x1="494.20" y1="79.50" x2="494.20" y2="82.30" stroke="#000" stroke-width="0.9" />
<rect x="466.80" y="79.20" width="3.20" height="1.80" fill="#000" stroke="none" stroke-width="1" />
<text x="448.00" y="81.95" font-size="6.8" fill="#231f20" text-anchor="end" textLength="3.27" lengthAdjust="spacingAndGlyphs" >0</text>
<text x="448.00" y="72.23" font-size="6.8" fill="#231f20" text-anchor="end" textLength="6.54" lengthAdjust="spacingAndGlyphs" >20</text>
<text x="448.00" y="62.51" font-size="6.8" fill="#231f20" text-anchor="end" textLength="6.54" lengthAdjust="spacingAndGlyphs" >40</text>
<text x="448.00" y="52.79" font-size="6.8" fill="#231f20" text-anchor="end" textLength="6.54" lengthAdjust="spacingAndGlyphs" >60</text>
<text x="448.00" y="43.07" font-size="6.8" fill="#231f20" text-anchor="end" textLength="6.54" lengthAdjust="spacingAndGlyphs" >80</text>
<text x="448.00" y="33.35" font-size="6.8" fill="#231f20" text-anchor="end" textLength="9.81" lengthAdjust="spacingAndGlyphs" >100</text>
<text x="469.00" y="91.50" font-size="6.6" fill="#231f20" text-anchor="middle" >0</text>
<text x="494.20" y="91.50" font-size="6.6" fill="#231f20" text-anchor="middle" >10<tspan font-size="4.4" dy="-2.7">4</tspan></text>
<text x="485.70" y="103.50" font-size="8.6" fill="#231f20" text-anchor="middle" textLength="14.8" lengthAdjust="spacingAndGlyphs" >mTOR</text>
<path d="M295.40,166.10 L295.40,166.10 L296.30,164.66 L297.20,159.38 L298.10,150.26 L299.00,144.02 L299.80,142.58 L300.60,144.50 L301.50,151.70 L302.50,159.86 L303.50,163.70 L304.90,165.14 L306.70,165.72 L308.70,166.10 L308.70,166.10 Z" fill="rgba(243,156,31,0.20)" stroke="#f39c1f" stroke-width="1.2" stroke-linejoin="round"/>
<path d="M314.50,166.10 L314.50,166.10 L315.40,164.28 L317.00,155.68 L318.20,144.21 L319.20,134.61 L320.20,128.80 L321.10,128.80 L321.80,136.48 L322.40,144.21 L323.40,147.09 L324.30,146.80 L325.30,144.21 L326.20,146.08 L327.20,153.81 L328.50,161.49 L329.80,164.66 L331.00,166.10 L331.00,166.10 Z" fill="rgba(200,120,150,0.30)" stroke="#c8102e" stroke-width="1.2" stroke-linejoin="round"/>
<path d="M314.50,166.10 L314.50,166.10 L315.40,164.28 L317.00,155.68 L318.20,145.46 L319.20,138.26 L320.20,135.86 L321.10,137.30 L321.80,141.14 L322.40,145.46 L323.40,147.86 L324.30,147.38 L325.30,144.98 L326.20,146.42 L327.20,153.81 L328.50,161.49 L329.80,164.66 L331.00,166.10 L331.00,166.10 Z" fill="rgba(120,110,170,0.25)" stroke="#3a3f7a" stroke-width="1.2" stroke-linejoin="round"/>
<line x1="284.40" y1="113.00" x2="284.40" y2="166.70" stroke="#000" stroke-width="1.2" />
<line x1="283.80" y1="166.10" x2="341.50" y2="166.10" stroke="#000" stroke-width="1.4" />
<line x1="281.40" y1="166.10" x2="284.40" y2="166.10" stroke="#000" stroke-width="0.75" />
<line x1="283.00" y1="163.70" x2="284.40" y2="163.70" stroke="#000" stroke-width="0.75" />
<line x1="283.00" y1="161.30" x2="284.40" y2="161.30" stroke="#000" stroke-width="0.75" />
<line x1="283.00" y1="158.90" x2="284.40" y2="158.90" stroke="#000" stroke-width="0.75" />
<line x1="281.40" y1="156.50" x2="284.40" y2="156.50" stroke="#000" stroke-width="0.75" />
<line x1="283.00" y1="154.10" x2="284.40" y2="154.10" stroke="#000" stroke-width="0.75" />
<line x1="283.00" y1="151.70" x2="284.40" y2="151.70" stroke="#000" stroke-width="0.75" />
<line x1="283.00" y1="149.30" x2="284.40" y2="149.30" stroke="#000" stroke-width="0.75" />
<line x1="281.40" y1="146.90" x2="284.40" y2="146.90" stroke="#000" stroke-width="0.75" />
<line x1="283.00" y1="144.50" x2="284.40" y2="144.50" stroke="#000" stroke-width="0.75" />
<line x1="283.00" y1="142.10" x2="284.40" y2="142.10" stroke="#000" stroke-width="0.75" />
<line x1="283.00" y1="139.70" x2="284.40" y2="139.70" stroke="#000" stroke-width="0.75" />
<line x1="281.40" y1="137.30" x2="284.40" y2="137.30" stroke="#000" stroke-width="0.75" />
<line x1="283.00" y1="134.90" x2="284.40" y2="134.90" stroke="#000" stroke-width="0.75" />
<line x1="283.00" y1="132.50" x2="284.40" y2="132.50" stroke="#000" stroke-width="0.75" />
<line x1="283.00" y1="130.10" x2="284.40" y2="130.10" stroke="#000" stroke-width="0.75" />
<line x1="281.40" y1="127.70" x2="284.40" y2="127.70" stroke="#000" stroke-width="0.75" />
<line x1="283.00" y1="125.30" x2="284.40" y2="125.30" stroke="#000" stroke-width="0.75" />
<line x1="283.00" y1="122.90" x2="284.40" y2="122.90" stroke="#000" stroke-width="0.75" />
<line x1="283.00" y1="120.50" x2="284.40" y2="120.50" stroke="#000" stroke-width="0.75" />
<line x1="281.40" y1="118.10" x2="284.40" y2="118.10" stroke="#000" stroke-width="0.75" />
<line x1="285.84" y1="166.10" x2="285.84" y2="168.00" stroke="#000" stroke-width="0.8" />
<line x1="288.89" y1="166.10" x2="288.89" y2="168.00" stroke="#000" stroke-width="0.8" />
<line x1="291.25" y1="166.10" x2="291.25" y2="168.00" stroke="#000" stroke-width="0.8" />
<line x1="293.19" y1="166.10" x2="293.19" y2="168.00" stroke="#000" stroke-width="0.8" />
<line x1="294.82" y1="166.10" x2="294.82" y2="168.00" stroke="#000" stroke-width="0.8" />
<line x1="296.24" y1="166.10" x2="296.24" y2="168.00" stroke="#000" stroke-width="0.8" />
<line x1="297.48" y1="166.10" x2="297.48" y2="168.00" stroke="#000" stroke-width="0.8" />
<line x1="298.60" y1="166.10" x2="298.60" y2="168.00" stroke="#000" stroke-width="0.8" />
<line x1="305.95" y1="166.10" x2="305.95" y2="168.00" stroke="#000" stroke-width="0.8" />
<line x1="310.24" y1="166.10" x2="310.24" y2="168.00" stroke="#000" stroke-width="0.8" />
<line x1="313.29" y1="166.10" x2="313.29" y2="168.00" stroke="#000" stroke-width="0.8" />
<line x1="315.65" y1="166.10" x2="315.65" y2="168.00" stroke="#000" stroke-width="0.8" />
<line x1="317.59" y1="166.10" x2="317.59" y2="168.00" stroke="#000" stroke-width="0.8" />
<line x1="319.22" y1="166.10" x2="319.22" y2="168.00" stroke="#000" stroke-width="0.8" />
<line x1="320.64" y1="166.10" x2="320.64" y2="168.00" stroke="#000" stroke-width="0.8" />
<line x1="321.88" y1="166.10" x2="321.88" y2="168.00" stroke="#000" stroke-width="0.8" />
<line x1="323.00" y1="166.10" x2="323.00" y2="168.00" stroke="#000" stroke-width="0.8" />
<line x1="330.35" y1="166.10" x2="330.35" y2="168.00" stroke="#000" stroke-width="0.8" />
<line x1="334.64" y1="166.10" x2="334.64" y2="168.00" stroke="#000" stroke-width="0.8" />
<line x1="337.69" y1="166.10" x2="337.69" y2="168.00" stroke="#000" stroke-width="0.8" />
<line x1="340.05" y1="166.10" x2="340.05" y2="168.00" stroke="#000" stroke-width="0.8" />
<line x1="298.60" y1="166.10" x2="298.60" y2="168.90" stroke="#000" stroke-width="0.9" />
<line x1="323.00" y1="166.10" x2="323.00" y2="168.90" stroke="#000" stroke-width="0.9" />
<rect x="296.40" y="165.80" width="3.20" height="1.80" fill="#000" stroke="none" stroke-width="1" />
<text x="277.80" y="168.55" font-size="6.8" fill="#231f20" text-anchor="end" textLength="3.27" lengthAdjust="spacingAndGlyphs" >0</text>
<text x="277.80" y="158.95" font-size="6.8" fill="#231f20" text-anchor="end" textLength="6.54" lengthAdjust="spacingAndGlyphs" >20</text>
<text x="277.80" y="149.35" font-size="6.8" fill="#231f20" text-anchor="end" textLength="6.54" lengthAdjust="spacingAndGlyphs" >40</text>
<text x="277.80" y="139.75" font-size="6.8" fill="#231f20" text-anchor="end" textLength="6.54" lengthAdjust="spacingAndGlyphs" >60</text>
<text x="277.80" y="130.15" font-size="6.8" fill="#231f20" text-anchor="end" textLength="6.54" lengthAdjust="spacingAndGlyphs" >80</text>
<text x="277.80" y="120.55" font-size="6.8" fill="#231f20" text-anchor="end" textLength="9.81" lengthAdjust="spacingAndGlyphs" >100</text>
<text x="298.60" y="178.10" font-size="6.6" fill="#231f20" text-anchor="middle" >0</text>
<text x="323.00" y="178.10" font-size="6.6" fill="#231f20" text-anchor="middle" >10<tspan font-size="4.4" dy="-2.7">4</tspan></text>
<text x="313.10" y="190.10" font-size="8.6" fill="#231f20" text-anchor="middle" textLength="16.2" lengthAdjust="spacingAndGlyphs" >OPA3</text>
<path d="M381.20,166.20 L381.20,166.20 L382.10,164.76 L383.00,158.52 L383.80,150.36 L384.50,144.12 L385.10,142.68 L385.80,146.04 L386.60,154.20 L387.40,161.40 L388.40,165.00 L390.00,165.72 L393.00,166.20 L393.00,166.20 Z" fill="rgba(243,156,31,0.20)" stroke="#f39c1f" stroke-width="1.2" stroke-linejoin="round"/>
<path d="M387.00,166.20 L387.00,166.20 L388.00,165.38 L390.30,161.21 L391.50,158.09 L393.40,154.20 L394.50,149.59 L395.70,147.29 L396.80,146.52 L398.00,143.50 L399.20,140.38 L399.90,136.49 L400.70,140.38 L401.50,146.52 L402.60,148.78 L404.20,151.18 L405.70,151.18 L406.80,152.28 L407.60,157.32 L408.80,162.70 L410.30,165.72 L411.00,166.20 L411.00,166.20 Z" fill="rgba(100,110,180,0.30)" stroke="#1f5597" stroke-width="1.2" stroke-linejoin="round"/>
<path d="M388.50,166.20 L388.50,166.20 L389.50,165.38 L391.80,161.88 L394.20,156.41 L396.50,150.36 L398.00,144.98 L398.80,140.81 L399.90,145.80 L401.10,148.78 L403.40,152.71 L405.70,154.20 L407.20,155.78 L408.40,161.21 L409.90,165.72 L410.50,166.20 L410.50,166.20 Z" fill="rgba(200,120,150,0.35)" stroke="#7a2a5a" stroke-width="1.1" stroke-linejoin="round"/>
<line x1="369.80" y1="113.00" x2="369.80" y2="166.80" stroke="#000" stroke-width="1.2" />
<line x1="369.20" y1="166.20" x2="426.00" y2="166.20" stroke="#000" stroke-width="1.4" />
<line x1="366.80" y1="166.20" x2="369.80" y2="166.20" stroke="#000" stroke-width="0.75" />
<line x1="368.40" y1="163.80" x2="369.80" y2="163.80" stroke="#000" stroke-width="0.75" />
<line x1="368.40" y1="161.40" x2="369.80" y2="161.40" stroke="#000" stroke-width="0.75" />
<line x1="368.40" y1="159.00" x2="369.80" y2="159.00" stroke="#000" stroke-width="0.75" />
<line x1="366.80" y1="156.60" x2="369.80" y2="156.60" stroke="#000" stroke-width="0.75" />
<line x1="368.40" y1="154.20" x2="369.80" y2="154.20" stroke="#000" stroke-width="0.75" />
<line x1="368.40" y1="151.80" x2="369.80" y2="151.80" stroke="#000" stroke-width="0.75" />
<line x1="368.40" y1="149.40" x2="369.80" y2="149.40" stroke="#000" stroke-width="0.75" />
<line x1="366.80" y1="147.00" x2="369.80" y2="147.00" stroke="#000" stroke-width="0.75" />
<line x1="368.40" y1="144.60" x2="369.80" y2="144.60" stroke="#000" stroke-width="0.75" />
<line x1="368.40" y1="142.20" x2="369.80" y2="142.20" stroke="#000" stroke-width="0.75" />
<line x1="368.40" y1="139.80" x2="369.80" y2="139.80" stroke="#000" stroke-width="0.75" />
<line x1="366.80" y1="137.40" x2="369.80" y2="137.40" stroke="#000" stroke-width="0.75" />
<line x1="368.40" y1="135.00" x2="369.80" y2="135.00" stroke="#000" stroke-width="0.75" />
<line x1="368.40" y1="132.60" x2="369.80" y2="132.60" stroke="#000" stroke-width="0.75" />
<line x1="368.40" y1="130.20" x2="369.80" y2="130.20" stroke="#000" stroke-width="0.75" />
<line x1="366.80" y1="127.80" x2="369.80" y2="127.80" stroke="#000" stroke-width="0.75" />
<line x1="368.40" y1="125.40" x2="369.80" y2="125.40" stroke="#000" stroke-width="0.75" />
<line x1="368.40" y1="123.00" x2="369.80" y2="123.00" stroke="#000" stroke-width="0.75" />
<line x1="368.40" y1="120.60" x2="369.80" y2="120.60" stroke="#000" stroke-width="0.75" />
<line x1="366.80" y1="118.20" x2="369.80" y2="118.20" stroke="#000" stroke-width="0.75" />
<line x1="371.80" y1="166.20" x2="371.80" y2="168.10" stroke="#000" stroke-width="0.8" />
<line x1="374.81" y1="166.20" x2="374.81" y2="168.10" stroke="#000" stroke-width="0.8" />
<line x1="377.15" y1="166.20" x2="377.15" y2="168.10" stroke="#000" stroke-width="0.8" />
<line x1="379.05" y1="166.20" x2="379.05" y2="168.10" stroke="#000" stroke-width="0.8" />
<line x1="380.67" y1="166.20" x2="380.67" y2="168.10" stroke="#000" stroke-width="0.8" />
<line x1="382.06" y1="166.20" x2="382.06" y2="168.10" stroke="#000" stroke-width="0.8" />
<line x1="383.30" y1="166.20" x2="383.30" y2="168.10" stroke="#000" stroke-width="0.8" />
<line x1="384.40" y1="166.20" x2="384.40" y2="168.10" stroke="#000" stroke-width="0.8" />
<line x1="391.65" y1="166.20" x2="391.65" y2="168.10" stroke="#000" stroke-width="0.8" />
<line x1="395.90" y1="166.20" x2="395.90" y2="168.10" stroke="#000" stroke-width="0.8" />
<line x1="398.91" y1="166.20" x2="398.91" y2="168.10" stroke="#000" stroke-width="0.8" />
<line x1="401.25" y1="166.20" x2="401.25" y2="168.10" stroke="#000" stroke-width="0.8" />
<line x1="403.15" y1="166.20" x2="403.15" y2="168.10" stroke="#000" stroke-width="0.8" />
<line x1="404.77" y1="166.20" x2="404.77" y2="168.10" stroke="#000" stroke-width="0.8" />
<line x1="406.16" y1="166.20" x2="406.16" y2="168.10" stroke="#000" stroke-width="0.8" />
<line x1="407.40" y1="166.20" x2="407.40" y2="168.10" stroke="#000" stroke-width="0.8" />
<line x1="408.50" y1="166.20" x2="408.50" y2="168.10" stroke="#000" stroke-width="0.8" />
<line x1="415.75" y1="166.20" x2="415.75" y2="168.10" stroke="#000" stroke-width="0.8" />
<line x1="420.00" y1="166.20" x2="420.00" y2="168.10" stroke="#000" stroke-width="0.8" />
<line x1="423.01" y1="166.20" x2="423.01" y2="168.10" stroke="#000" stroke-width="0.8" />
<line x1="425.35" y1="166.20" x2="425.35" y2="168.10" stroke="#000" stroke-width="0.8" />
<line x1="384.40" y1="166.20" x2="384.40" y2="169.00" stroke="#000" stroke-width="0.9" />
<line x1="408.50" y1="166.20" x2="408.50" y2="169.00" stroke="#000" stroke-width="0.9" />
<rect x="382.20" y="165.90" width="3.20" height="1.80" fill="#000" stroke="none" stroke-width="1" />
<text x="363.20" y="168.65" font-size="6.8" fill="#231f20" text-anchor="end" textLength="3.27" lengthAdjust="spacingAndGlyphs" >0</text>
<text x="363.20" y="159.05" font-size="6.8" fill="#231f20" text-anchor="end" textLength="6.54" lengthAdjust="spacingAndGlyphs" >20</text>
<text x="363.20" y="149.45" font-size="6.8" fill="#231f20" text-anchor="end" textLength="6.54" lengthAdjust="spacingAndGlyphs" >40</text>
<text x="363.20" y="139.85" font-size="6.8" fill="#231f20" text-anchor="end" textLength="6.54" lengthAdjust="spacingAndGlyphs" >60</text>
<text x="363.20" y="130.25" font-size="6.8" fill="#231f20" text-anchor="end" textLength="6.54" lengthAdjust="spacingAndGlyphs" >80</text>
<text x="363.20" y="120.65" font-size="6.8" fill="#231f20" text-anchor="end" textLength="9.81" lengthAdjust="spacingAndGlyphs" >100</text>
<text x="384.40" y="178.20" font-size="6.6" fill="#231f20" text-anchor="middle" >0</text>
<text x="408.50" y="178.20" font-size="6.6" fill="#231f20" text-anchor="middle" >10<tspan font-size="4.4" dy="-2.7">4</tspan></text>
<text x="398.30" y="190.20" font-size="8.6" fill="#231f20" text-anchor="middle" textLength="31.3" lengthAdjust="spacingAndGlyphs" >SLC25A26</text>
<text x="262.90" y="54.10" font-size="8.3" fill="#231f20" text-anchor="middle" textLength="62.2" lengthAdjust="spacingAndGlyphs" transform="rotate(-90 262.90 54.10)" >Normalized to mode</text>
<text x="262.60" y="139.40" font-size="8.3" fill="#231f20" text-anchor="middle" textLength="61.3" lengthAdjust="spacingAndGlyphs" transform="rotate(-90 262.60 139.40)" >Normalized to mode</text>
<rect x="452.80" y="124.20" width="8.90" height="7.90" fill="#f39a1e" stroke="none" stroke-width="1" />
<line x1="452.80" y1="132.10" x2="461.70" y2="132.10" stroke="#999" stroke-width="0.6" />
<text x="464.60" y="130.40" font-size="6.6" fill="#231f20" textLength="45.8" lengthAdjust="spacingAndGlyphs" >2<tspan font-size="4" dy="-2.5">nd</tspan><tspan dy="2.5"> antibody only</tspan></text>
<rect x="452.80" y="135.80" width="8.90" height="7.90" fill="#1f4f8f" stroke="none" stroke-width="1" />
<line x1="452.80" y1="143.70" x2="461.70" y2="143.70" stroke="#999" stroke-width="0.6" />
<text x="464.60" y="142.00" font-size="6.6" fill="#231f20" textLength="27.5" lengthAdjust="spacingAndGlyphs" >+ CXCL14</text>
<rect x="452.80" y="147.20" width="8.90" height="7.90" fill="#c8102e" stroke="none" stroke-width="1" />
<line x1="452.80" y1="155.10" x2="461.70" y2="155.10" stroke="#999" stroke-width="0.6" />
<text x="464.60" y="153.40" font-size="6.6" fill="#231f20" textLength="16.5" lengthAdjust="spacingAndGlyphs" >+ PBS</text>
<text x="7.70" y="221.10" font-size="11.2" fill="#000" font-weight="bold" textLength="7.3" lengthAdjust="spacingAndGlyphs" >D</text>
<rect x="51.30" y="287.30" width="11.80" height="42.60" fill="#8a9cca" stroke="none" stroke-width="1" />
<rect x="71.30" y="293.26" width="11.80" height="36.64" fill="#e8887a" stroke="none" stroke-width="1" />
<line x1="57.20" y1="260.46" x2="77.20" y2="264.30" stroke="#2a3d62" stroke-width="0.9" />
<line x1="57.20" y1="269.41" x2="77.20" y2="276.22" stroke="#2a3d62" stroke-width="0.9" />
<line x1="57.20" y1="290.71" x2="77.20" y2="300.93" stroke="#2a3d62" stroke-width="0.9" />
<line x1="57.20" y1="297.95" x2="77.20" y2="308.60" stroke="#2a3d62" stroke-width="0.9" />
<line x1="57.20" y1="312.43" x2="77.20" y2="314.56" stroke="#2a3d62" stroke-width="0.9" />
<circle cx="57.20" cy="260.46" r="1.65" fill="#1d3a66" />
<circle cx="77.20" cy="264.30" r="1.65" fill="#b8142e" />
<circle cx="57.20" cy="269.41" r="1.65" fill="#1d3a66" />
<circle cx="77.20" cy="276.22" r="1.65" fill="#b8142e" />
<circle cx="57.20" cy="290.71" r="1.65" fill="#1d3a66" />
<circle cx="77.20" cy="300.93" r="1.65" fill="#b8142e" />
<circle cx="57.20" cy="297.95" r="1.65" fill="#1d3a66" />
<circle cx="77.20" cy="308.60" r="1.65" fill="#b8142e" />
<circle cx="57.20" cy="312.43" r="1.65" fill="#1d3a66" />
<circle cx="77.20" cy="314.56" r="1.65" fill="#b8142e" />
<line x1="43.50" y1="243.20" x2="43.50" y2="330.50" stroke="#231f20" stroke-width="1.1" />
<line x1="43.00" y1="329.90" x2="86.50" y2="329.90" stroke="#231f20" stroke-width="1.1" />
<line x1="40.90" y1="329.90" x2="43.50" y2="329.90" stroke="#231f20" stroke-width="0.9" />
<text x="37.60" y="332.00" font-size="6.4" fill="#231f20" text-anchor="end" >0</text>
<line x1="40.90" y1="308.60" x2="43.50" y2="308.60" stroke="#231f20" stroke-width="0.9" />
<text x="37.60" y="310.70" font-size="6.4" fill="#231f20" text-anchor="end" >5000</text>
<line x1="40.90" y1="287.30" x2="43.50" y2="287.30" stroke="#231f20" stroke-width="0.9" />
<text x="37.60" y="289.40" font-size="6.4" fill="#231f20" text-anchor="end" >10000</text>
<line x1="40.90" y1="266.00" x2="43.50" y2="266.00" stroke="#231f20" stroke-width="0.9" />
<text x="37.60" y="268.10" font-size="6.4" fill="#231f20" text-anchor="end" >15000</text>
<line x1="40.90" y1="244.70" x2="43.50" y2="244.70" stroke="#231f20" stroke-width="0.9" />
<text x="37.60" y="246.80" font-size="6.4" fill="#231f20" text-anchor="end" >20000</text>
<line x1="57.20" y1="329.90" x2="57.20" y2="332.10" stroke="#231f20" stroke-width="0.9" />
<line x1="77.20" y1="329.90" x2="77.20" y2="332.10" stroke="#231f20" stroke-width="0.9" />
<text x="67.20" y="247.30" font-size="6.2" fill="#d0203a" text-anchor="middle" textLength="20.2" lengthAdjust="spacingAndGlyphs" >0.0077</text>
<path d="M57.20,254.40 L57.20,250.00 L77.20,250.00 L77.20,254.40" fill="none" stroke="#231f20" stroke-width="0.8" />
<text x="14.50" y="286.00" font-size="8.5" fill="#231f20" text-anchor="middle" textLength="35.5" lengthAdjust="spacingAndGlyphs" transform="rotate(-90 14.50 286.00)" >MFI of CYC1</text>
<rect x="142.80" y="297.42" width="12.00" height="32.68" fill="#8a9cca" stroke="none" stroke-width="1" />
<rect x="162.70" y="299.36" width="12.00" height="30.75" fill="#e8887a" stroke="none" stroke-width="1" />
<line x1="148.80" y1="269.25" x2="168.70" y2="274.20" stroke="#2a3d62" stroke-width="0.9" />
<line x1="148.80" y1="274.20" x2="168.70" y2="288.39" stroke="#2a3d62" stroke-width="0.9" />
<line x1="148.80" y1="306.02" x2="168.70" y2="305.38" stroke="#2a3d62" stroke-width="0.9" />
<line x1="148.80" y1="312.47" x2="168.70" y2="306.02" stroke="#2a3d62" stroke-width="0.9" />
<line x1="148.80" y1="319.35" x2="168.70" y2="319.35" stroke="#2a3d62" stroke-width="0.9" />
<circle cx="148.80" cy="269.25" r="1.65" fill="#1d3a66" />
<circle cx="168.70" cy="274.20" r="1.65" fill="#b8142e" />
<circle cx="148.80" cy="274.20" r="1.65" fill="#1d3a66" />
<circle cx="168.70" cy="288.39" r="1.65" fill="#b8142e" />
<circle cx="148.80" cy="306.02" r="1.65" fill="#1d3a66" />
<circle cx="168.70" cy="305.38" r="1.65" fill="#b8142e" />
<circle cx="148.80" cy="312.47" r="1.65" fill="#1d3a66" />
<circle cx="168.70" cy="306.02" r="1.65" fill="#b8142e" />
<circle cx="148.80" cy="319.35" r="1.65" fill="#1d3a66" />
<circle cx="168.70" cy="319.35" r="1.65" fill="#b8142e" />
<line x1="135.40" y1="242.60" x2="135.40" y2="330.70" stroke="#231f20" stroke-width="1.1" />
<line x1="134.90" y1="330.10" x2="180.30" y2="330.10" stroke="#231f20" stroke-width="1.1" />
<line x1="132.80" y1="330.10" x2="135.40" y2="330.10" stroke="#231f20" stroke-width="0.9" />
<text x="129.50" y="332.20" font-size="6.4" fill="#231f20" text-anchor="end" >0</text>
<line x1="132.80" y1="308.60" x2="135.40" y2="308.60" stroke="#231f20" stroke-width="0.9" />
<text x="129.50" y="310.70" font-size="6.4" fill="#231f20" text-anchor="end" >10000</text>
<line x1="132.80" y1="287.10" x2="135.40" y2="287.10" stroke="#231f20" stroke-width="0.9" />
<text x="129.50" y="289.20" font-size="6.4" fill="#231f20" text-anchor="end" >20000</text>
<line x1="132.80" y1="265.60" x2="135.40" y2="265.60" stroke="#231f20" stroke-width="0.9" />
<text x="129.50" y="267.70" font-size="6.4" fill="#231f20" text-anchor="end" >30000</text>
<line x1="132.80" y1="244.10" x2="135.40" y2="244.10" stroke="#231f20" stroke-width="0.9" />
<text x="129.50" y="246.20" font-size="6.4" fill="#231f20" text-anchor="end" >40000</text>
<line x1="148.80" y1="330.10" x2="148.80" y2="332.30" stroke="#231f20" stroke-width="0.9" />
<line x1="168.70" y1="330.10" x2="168.70" y2="332.30" stroke="#231f20" stroke-width="0.9" />
<text x="158.75" y="254.40" font-size="6.2" fill="#231f20" text-anchor="middle" textLength="25.0" lengthAdjust="spacingAndGlyphs" >&gt; 0.9999</text>
<path d="M148.80,261.40 L148.80,256.60 L168.70,256.60 L168.70,261.40" fill="none" stroke="#231f20" stroke-width="0.8" />
<text x="105.60" y="284.00" font-size="8.5" fill="#231f20" text-anchor="middle" textLength="65.4" lengthAdjust="spacingAndGlyphs" transform="rotate(-90 105.60 284.00)" >MFI of SERCA2/ATP2A2</text>
<rect x="230.80" y="301.28" width="11.80" height="28.32" fill="#8a9cca" stroke="none" stroke-width="1" />
<rect x="250.80" y="301.28" width="11.80" height="28.32" fill="#e8887a" stroke="none" stroke-width="1" />
<line x1="236.70" y1="258.29" x2="256.70" y2="261.36" stroke="#2a3d62" stroke-width="0.9" />
<line x1="236.70" y1="291.73" x2="256.70" y2="290.70" stroke="#2a3d62" stroke-width="0.9" />
<line x1="236.70" y1="311.86" x2="256.70" y2="307.76" stroke="#2a3d62" stroke-width="0.9" />
<line x1="236.70" y1="316.29" x2="256.70" y2="317.32" stroke="#2a3d62" stroke-width="0.9" />
<line x1="236.70" y1="324.14" x2="256.70" y2="324.82" stroke="#2a3d62" stroke-width="0.9" />
<circle cx="236.70" cy="258.29" r="1.65" fill="#1d3a66" />
<circle cx="256.70" cy="261.36" r="1.65" fill="#b8142e" />
<circle cx="236.70" cy="291.73" r="1.65" fill="#1d3a66" />
<circle cx="256.70" cy="290.70" r="1.65" fill="#b8142e" />
<circle cx="236.70" cy="311.86" r="1.65" fill="#1d3a66" />
<circle cx="256.70" cy="307.76" r="1.65" fill="#b8142e" />
<circle cx="236.70" cy="316.29" r="1.65" fill="#1d3a66" />
<circle cx="256.70" cy="317.32" r="1.65" fill="#b8142e" />
<circle cx="236.70" cy="324.14" r="1.65" fill="#1d3a66" />
<circle cx="256.70" cy="324.82" r="1.65" fill="#b8142e" />
<line x1="223.50" y1="242.80" x2="223.50" y2="330.20" stroke="#231f20" stroke-width="1.1" />
<line x1="223.00" y1="329.60" x2="268.00" y2="329.60" stroke="#231f20" stroke-width="1.1" />
<line x1="220.90" y1="329.60" x2="223.50" y2="329.60" stroke="#231f20" stroke-width="0.9" />
<text x="217.60" y="331.70" font-size="6.4" fill="#231f20" text-anchor="end" >0</text>
<line x1="220.90" y1="312.54" x2="223.50" y2="312.54" stroke="#231f20" stroke-width="0.9" />
<text x="217.60" y="314.64" font-size="6.4" fill="#231f20" text-anchor="end" >500</text>
<line x1="220.90" y1="295.48" x2="223.50" y2="295.48" stroke="#231f20" stroke-width="0.9" />
<text x="217.60" y="297.58" font-size="6.4" fill="#231f20" text-anchor="end" >1000</text>
<line x1="220.90" y1="278.42" x2="223.50" y2="278.42" stroke="#231f20" stroke-width="0.9" />
<text x="217.60" y="280.52" font-size="6.4" fill="#231f20" text-anchor="end" >1500</text>
<line x1="220.90" y1="261.36" x2="223.50" y2="261.36" stroke="#231f20" stroke-width="0.9" />
<text x="217.60" y="263.46" font-size="6.4" fill="#231f20" text-anchor="end" >2000</text>
<line x1="220.90" y1="244.30" x2="223.50" y2="244.30" stroke="#231f20" stroke-width="0.9" />
<text x="217.60" y="246.40" font-size="6.4" fill="#231f20" text-anchor="end" >2500</text>
<line x1="236.70" y1="329.60" x2="236.70" y2="331.80" stroke="#231f20" stroke-width="0.9" />
<line x1="256.70" y1="329.60" x2="256.70" y2="331.80" stroke="#231f20" stroke-width="0.9" />
<text x="246.70" y="242.10" font-size="6.2" fill="#231f20" text-anchor="middle" textLength="20.2" lengthAdjust="spacingAndGlyphs" >0.9921</text>
<path d="M236.70,249.80 L236.70,244.60 L256.70,244.60 L256.70,249.80" fill="none" stroke="#231f20" stroke-width="0.8" />
<text x="196.60" y="285.60" font-size="8.5" fill="#231f20" text-anchor="middle" textLength="38.9" lengthAdjust="spacingAndGlyphs" transform="rotate(-90 196.60 285.60)" >MFI of mTOR</text>
<rect x="98.30" y="425.76" width="12.20" height="34.04" fill="#8a9cca" stroke="none" stroke-width="1" />
<rect x="118.50" y="423.63" width="12.20" height="36.17" fill="#e8887a" stroke="none" stroke-width="1" />
<line x1="104.40" y1="413.00" x2="124.60" y2="395.12" stroke="#2a3d62" stroke-width="0.9" />
<line x1="104.40" y1="420.65" x2="124.60" y2="423.63" stroke="#2a3d62" stroke-width="0.9" />
<line x1="104.40" y1="424.91" x2="124.60" y2="423.21" stroke="#2a3d62" stroke-width="0.9" />
<line x1="104.40" y1="446.18" x2="124.60" y2="446.18" stroke="#2a3d62" stroke-width="0.9" />
<circle cx="104.40" cy="413.00" r="1.65" fill="#1d3a66" />
<circle cx="124.60" cy="395.12" r="1.65" fill="#b8142e" />
<circle cx="104.40" cy="420.65" r="1.65" fill="#1d3a66" />
<circle cx="124.60" cy="423.63" r="1.65" fill="#b8142e" />
<circle cx="104.40" cy="424.91" r="1.65" fill="#1d3a66" />
<circle cx="124.60" cy="423.21" r="1.65" fill="#b8142e" />
<circle cx="104.40" cy="446.18" r="1.65" fill="#1d3a66" />
<circle cx="124.60" cy="446.18" r="1.65" fill="#b8142e" />
<line x1="92.30" y1="373.20" x2="92.30" y2="460.40" stroke="#231f20" stroke-width="1.1" />
<line x1="91.80" y1="459.80" x2="135.60" y2="459.80" stroke="#231f20" stroke-width="1.1" />
<line x1="89.70" y1="459.80" x2="92.30" y2="459.80" stroke="#231f20" stroke-width="0.9" />
<text x="86.40" y="461.90" font-size="6.4" fill="#231f20" text-anchor="end" >0</text>
<line x1="89.70" y1="438.52" x2="92.30" y2="438.52" stroke="#231f20" stroke-width="0.9" />
<text x="86.40" y="440.62" font-size="6.4" fill="#231f20" text-anchor="end" >5000</text>
<line x1="89.70" y1="417.25" x2="92.30" y2="417.25" stroke="#231f20" stroke-width="0.9" />
<text x="86.40" y="419.35" font-size="6.4" fill="#231f20" text-anchor="end" >10000</text>
<line x1="89.70" y1="395.98" x2="92.30" y2="395.98" stroke="#231f20" stroke-width="0.9" />
<text x="86.40" y="398.08" font-size="6.4" fill="#231f20" text-anchor="end" >15000</text>
<line x1="89.70" y1="374.70" x2="92.30" y2="374.70" stroke="#231f20" stroke-width="0.9" />
<text x="86.40" y="376.80" font-size="6.4" fill="#231f20" text-anchor="end" >20000</text>
<line x1="104.40" y1="459.80" x2="104.40" y2="462.00" stroke="#231f20" stroke-width="0.9" />
<line x1="124.60" y1="459.80" x2="124.60" y2="462.00" stroke="#231f20" stroke-width="0.9" />
<text x="114.50" y="384.90" font-size="6.2" fill="#231f20" text-anchor="middle" textLength="25.0" lengthAdjust="spacingAndGlyphs" >&gt; 0.9999</text>
<path d="M104.40,392.80 L104.40,387.80 L124.60,387.80 L124.60,392.80" fill="none" stroke="#231f20" stroke-width="0.8" />
<text x="61.30" y="416.00" font-size="8.5" fill="#231f20" text-anchor="middle" textLength="37.9" lengthAdjust="spacingAndGlyphs" transform="rotate(-90 61.30 416.00)" >MFI of OPA3</text>
<rect x="186.10" y="416.23" width="12.00" height="43.77" fill="#8a9cca" stroke="none" stroke-width="1" />
<rect x="206.30" y="409.48" width="12.00" height="50.52" fill="#e8887a" stroke="none" stroke-width="1" />
<line x1="192.10" y1="396.86" x2="212.30" y2="389.07" stroke="#2a3d62" stroke-width="0.9" />
<line x1="192.10" y1="406.37" x2="212.30" y2="402.91" stroke="#2a3d62" stroke-width="0.9" />
<line x1="192.10" y1="414.15" x2="212.30" y2="421.94" stroke="#2a3d62" stroke-width="0.9" />
<line x1="192.10" y1="430.24" x2="212.30" y2="394.61" stroke="#2a3d62" stroke-width="0.9" />
<line x1="192.10" y1="430.59" x2="212.30" y2="435.78" stroke="#2a3d62" stroke-width="0.9" />
<circle cx="192.10" cy="396.86" r="1.65" fill="#1d3a66" />
<circle cx="212.30" cy="389.07" r="1.65" fill="#b8142e" />
<circle cx="192.10" cy="406.37" r="1.65" fill="#1d3a66" />
<circle cx="212.30" cy="402.91" r="1.65" fill="#b8142e" />
<circle cx="192.10" cy="414.15" r="1.65" fill="#1d3a66" />
<circle cx="212.30" cy="421.94" r="1.65" fill="#b8142e" />
<circle cx="192.10" cy="430.24" r="1.65" fill="#1d3a66" />
<circle cx="212.30" cy="394.61" r="1.65" fill="#b8142e" />
<circle cx="192.10" cy="430.59" r="1.65" fill="#1d3a66" />
<circle cx="212.30" cy="435.78" r="1.65" fill="#b8142e" />
<line x1="178.10" y1="372.00" x2="178.10" y2="460.60" stroke="#231f20" stroke-width="1.1" />
<line x1="177.60" y1="460.00" x2="223.30" y2="460.00" stroke="#231f20" stroke-width="1.1" />
<line x1="175.50" y1="460.00" x2="178.10" y2="460.00" stroke="#231f20" stroke-width="0.9" />
<text x="172.20" y="462.10" font-size="6.4" fill="#231f20" text-anchor="end" >0</text>
<line x1="175.50" y1="442.70" x2="178.10" y2="442.70" stroke="#231f20" stroke-width="0.9" />
<text x="172.20" y="444.80" font-size="6.4" fill="#231f20" text-anchor="end" >1000</text>
<line x1="175.50" y1="425.40" x2="178.10" y2="425.40" stroke="#231f20" stroke-width="0.9" />
<text x="172.20" y="427.50" font-size="6.4" fill="#231f20" text-anchor="end" >2000</text>
<line x1="175.50" y1="408.10" x2="178.10" y2="408.10" stroke="#231f20" stroke-width="0.9" />
<text x="172.20" y="410.20" font-size="6.4" fill="#231f20" text-anchor="end" >3000</text>
<line x1="175.50" y1="390.80" x2="178.10" y2="390.80" stroke="#231f20" stroke-width="0.9" />
<text x="172.20" y="392.90" font-size="6.4" fill="#231f20" text-anchor="end" >4000</text>
<line x1="175.50" y1="373.50" x2="178.10" y2="373.50" stroke="#231f20" stroke-width="0.9" />
<text x="172.20" y="375.60" font-size="6.4" fill="#231f20" text-anchor="end" >5000</text>
<line x1="192.10" y1="460.00" x2="192.10" y2="462.20" stroke="#231f20" stroke-width="0.9" />
<line x1="212.30" y1="460.00" x2="212.30" y2="462.20" stroke="#231f20" stroke-width="0.9" />
<text x="202.20" y="375.50" font-size="6.2" fill="#231f20" text-anchor="middle" textLength="20.2" lengthAdjust="spacingAndGlyphs" >0.8125</text>
<path d="M192.10,382.80 L192.10,377.90 L212.30,377.90 L212.30,382.80" fill="none" stroke="#231f20" stroke-width="0.8" />
<text x="152.50" y="414.60" font-size="8.5" fill="#231f20" text-anchor="middle" textLength="52.3" lengthAdjust="spacingAndGlyphs" transform="rotate(-90 152.50 414.60)" >MFI of SLC25A26</text>
<text x="57.20" y="341.70" font-size="6.7" fill="#231f20" text-anchor="middle" textLength="13.5" lengthAdjust="spacingAndGlyphs" >CML</text>
<text x="77.20" y="341.70" font-size="6.7" fill="#231f20" text-anchor="middle" textLength="13.5" lengthAdjust="spacingAndGlyphs" >CML</text>
<text x="57.20" y="349.00" font-size="6.7" fill="#231f20" text-anchor="middle" textLength="11.2" lengthAdjust="spacingAndGlyphs" >PBS</text>
<text x="77.20" y="349.00" font-size="6.7" fill="#231f20" text-anchor="middle" textLength="23.3" lengthAdjust="spacingAndGlyphs" >CXCL14</text>
<text x="148.80" y="341.70" font-size="6.7" fill="#231f20" text-anchor="middle" textLength="13.5" lengthAdjust="spacingAndGlyphs" >CML</text>
<text x="168.70" y="341.70" font-size="6.7" fill="#231f20" text-anchor="middle" textLength="13.5" lengthAdjust="spacingAndGlyphs" >CML</text>
<text x="148.80" y="349.00" font-size="6.7" fill="#231f20" text-anchor="middle" textLength="11.2" lengthAdjust="spacingAndGlyphs" >PBS</text>
<text x="168.70" y="349.00" font-size="6.7" fill="#231f20" text-anchor="middle" textLength="23.3" lengthAdjust="spacingAndGlyphs" >CXCL14</text>
<text x="236.70" y="341.70" font-size="6.7" fill="#231f20" text-anchor="middle" textLength="13.5" lengthAdjust="spacingAndGlyphs" >CML</text>
<text x="256.70" y="341.70" font-size="6.7" fill="#231f20" text-anchor="middle" textLength="13.5" lengthAdjust="spacingAndGlyphs" >CML</text>
<text x="236.70" y="349.00" font-size="6.7" fill="#231f20" text-anchor="middle" textLength="11.2" lengthAdjust="spacingAndGlyphs" >PBS</text>
<text x="256.70" y="349.00" font-size="6.7" fill="#231f20" text-anchor="middle" textLength="23.3" lengthAdjust="spacingAndGlyphs" >CXCL14</text>
<text x="104.40" y="471.50" font-size="6.7" fill="#231f20" text-anchor="middle" textLength="13.5" lengthAdjust="spacingAndGlyphs" >CML</text>
<text x="124.60" y="471.50" font-size="6.7" fill="#231f20" text-anchor="middle" textLength="13.5" lengthAdjust="spacingAndGlyphs" >CML</text>
<text x="104.40" y="479.20" font-size="6.7" fill="#231f20" text-anchor="middle" textLength="11.2" lengthAdjust="spacingAndGlyphs" >PBS</text>
<text x="124.60" y="479.20" font-size="6.7" fill="#231f20" text-anchor="middle" textLength="23.3" lengthAdjust="spacingAndGlyphs" >CXCL14</text>
<text x="192.10" y="471.50" font-size="6.7" fill="#231f20" text-anchor="middle" textLength="13.5" lengthAdjust="spacingAndGlyphs" >CML</text>
<text x="212.30" y="471.50" font-size="6.7" fill="#231f20" text-anchor="middle" textLength="13.5" lengthAdjust="spacingAndGlyphs" >CML</text>
<text x="192.10" y="479.20" font-size="6.7" fill="#231f20" text-anchor="middle" textLength="11.2" lengthAdjust="spacingAndGlyphs" >PBS</text>
<text x="212.30" y="479.20" font-size="6.7" fill="#231f20" text-anchor="middle" textLength="23.3" lengthAdjust="spacingAndGlyphs" >CXCL14</text>
<text x="289.40" y="221.20" font-size="11.2" fill="#000" font-weight="bold" >E</text>
<text x="348.00" y="261.40" font-size="8.6" fill="#231f20" text-anchor="middle" textLength="55" lengthAdjust="spacingAndGlyphs" >CD34<tspan font-size="6.2" dy="-3">+</tspan><tspan dy="3">CD38</tspan><tspan font-size="6.2" dy="-3">−</tspan></text>
<line x1="315.00" y1="265.60" x2="378.40" y2="265.60" stroke="#231f20" stroke-width="0.9" />
<path d="M319.00,329.50 L320.40,328.94 L322.70,318.40 L324.70,305.08 L326.50,306.19 L328.10,304.53 L329.60,306.19 L331.90,312.85 L335.80,318.95 L338.80,313.41 L341.20,314.51 L344.20,318.95 L347.30,324.23 L350.40,325.89 L353.50,324.23 L356.50,328.94 L358.00,329.50" fill="none" stroke="#2a5d8f" stroke-width="1.25" stroke-linejoin="round"/>
<path d="M322.70,329.50 L325.00,328.67 L328.10,318.40 L330.40,316.74 L334.20,308.41 L336.50,311.74 L338.80,313.96 L341.90,311.19 L345.30,303.42 L348.80,311.74 L351.90,321.73 L355.80,328.94 L357.00,329.50" fill="none" stroke="#c8203e" stroke-width="1.25" stroke-linejoin="round"/>
<line x1="314.50" y1="269.20" x2="314.50" y2="330.00" stroke="#000" stroke-width="1.1" />
<line x1="314.00" y1="329.50" x2="378.20" y2="329.50" stroke="#000" stroke-width="1.3" />
<line x1="311.90" y1="329.50" x2="314.50" y2="329.50" stroke="#000" stroke-width="0.7" />
<line x1="313.10" y1="323.95" x2="314.50" y2="323.95" stroke="#000" stroke-width="0.7" />
<line x1="313.10" y1="318.40" x2="314.50" y2="318.40" stroke="#000" stroke-width="0.7" />
<line x1="313.10" y1="312.85" x2="314.50" y2="312.85" stroke="#000" stroke-width="0.7" />
<line x1="311.90" y1="307.30" x2="314.50" y2="307.30" stroke="#000" stroke-width="0.7" />
<line x1="313.10" y1="301.75" x2="314.50" y2="301.75" stroke="#000" stroke-width="0.7" />
<line x1="313.10" y1="296.20" x2="314.50" y2="296.20" stroke="#000" stroke-width="0.7" />
<line x1="313.10" y1="290.65" x2="314.50" y2="290.65" stroke="#000" stroke-width="0.7" />
<line x1="311.90" y1="285.10" x2="314.50" y2="285.10" stroke="#000" stroke-width="0.7" />
<line x1="313.10" y1="279.55" x2="314.50" y2="279.55" stroke="#000" stroke-width="0.7" />
<line x1="313.10" y1="274.00" x2="314.50" y2="274.00" stroke="#000" stroke-width="0.7" />
<line x1="316.50" y1="329.50" x2="316.50" y2="331.00" stroke="#000" stroke-width="0.6" />
<line x1="318.99" y1="329.50" x2="318.99" y2="331.00" stroke="#000" stroke-width="0.6" />
<line x1="321.48" y1="329.50" x2="321.48" y2="331.00" stroke="#000" stroke-width="0.6" />
<line x1="323.96" y1="329.50" x2="323.96" y2="331.00" stroke="#000" stroke-width="0.6" />
<line x1="326.45" y1="329.50" x2="326.45" y2="331.00" stroke="#000" stroke-width="0.6" />
<line x1="328.94" y1="329.50" x2="328.94" y2="331.00" stroke="#000" stroke-width="0.6" />
<line x1="331.43" y1="329.50" x2="331.43" y2="331.00" stroke="#000" stroke-width="0.6" />
<line x1="333.91" y1="329.50" x2="333.91" y2="331.00" stroke="#000" stroke-width="0.6" />
<line x1="336.40" y1="329.50" x2="336.40" y2="331.00" stroke="#000" stroke-width="0.6" />
<line x1="338.89" y1="329.50" x2="338.89" y2="331.00" stroke="#000" stroke-width="0.6" />
<line x1="341.38" y1="329.50" x2="341.38" y2="331.00" stroke="#000" stroke-width="0.6" />
<line x1="343.86" y1="329.50" x2="343.86" y2="331.00" stroke="#000" stroke-width="0.6" />
<line x1="346.35" y1="329.50" x2="346.35" y2="331.00" stroke="#000" stroke-width="0.6" />
<line x1="348.84" y1="329.50" x2="348.84" y2="331.00" stroke="#000" stroke-width="0.6" />
<line x1="351.32" y1="329.50" x2="351.32" y2="331.00" stroke="#000" stroke-width="0.6" />
<line x1="353.81" y1="329.50" x2="353.81" y2="331.00" stroke="#000" stroke-width="0.6" />
<line x1="356.30" y1="329.50" x2="356.30" y2="331.00" stroke="#000" stroke-width="0.6" />
<line x1="358.79" y1="329.50" x2="358.79" y2="331.00" stroke="#000" stroke-width="0.6" />
<line x1="361.27" y1="329.50" x2="361.27" y2="331.00" stroke="#000" stroke-width="0.6" />
<line x1="363.76" y1="329.50" x2="363.76" y2="331.00" stroke="#000" stroke-width="0.6" />
<line x1="366.25" y1="329.50" x2="366.25" y2="331.00" stroke="#000" stroke-width="0.6" />
<line x1="368.74" y1="329.50" x2="368.74" y2="331.00" stroke="#000" stroke-width="0.6" />
<line x1="371.22" y1="329.50" x2="371.22" y2="331.00" stroke="#000" stroke-width="0.6" />
<line x1="373.71" y1="329.50" x2="373.71" y2="331.00" stroke="#000" stroke-width="0.6" />
<line x1="376.20" y1="329.50" x2="376.20" y2="331.00" stroke="#000" stroke-width="0.6" />
<rect x="317.00" y="328.90" width="7.00" height="2.60" fill="#000" stroke="none" stroke-width="1" />
<rect x="315.50" y="329.30" width="1.00" height="2.40" fill="#000" stroke="none" stroke-width="1" />
<rect x="317.60" y="329.30" width="1.00" height="2.40" fill="#000" stroke="none" stroke-width="1" />
<rect x="319.70" y="329.30" width="1.00" height="2.40" fill="#000" stroke="none" stroke-width="1" />
<rect x="321.80" y="329.30" width="1.00" height="2.40" fill="#000" stroke="none" stroke-width="1" />
<rect x="323.90" y="329.30" width="1.00" height="2.40" fill="#000" stroke="none" stroke-width="1" />
<rect x="326.00" y="329.30" width="1.00" height="2.40" fill="#000" stroke="none" stroke-width="1" />
<text x="308.00" y="331.80" font-size="6.6" fill="#231f20" text-anchor="end" textLength="3.35" lengthAdjust="spacingAndGlyphs" >0</text>
<text x="308.00" y="309.60" font-size="6.6" fill="#231f20" text-anchor="end" textLength="6.7" lengthAdjust="spacingAndGlyphs" >40</text>
<text x="308.00" y="287.40" font-size="6.6" fill="#231f20" text-anchor="end" textLength="6.7" lengthAdjust="spacingAndGlyphs" >80</text>
<text x="327.40" y="341.30" font-size="6.2" fill="#231f20" text-anchor="middle" >0</text>
<text x="371.00" y="341.30" font-size="6.2" fill="#231f20" text-anchor="middle" >10<tspan font-size="4.2" dy="-2.6">3</tspan></text>
<text x="346.35" y="353.60" font-size="8.7" fill="#231f20" text-anchor="middle" textLength="45.3" lengthAdjust="spacingAndGlyphs" >Mitotracker red</text>
<text x="296.40" y="299.20" font-size="8.3" fill="#231f20" text-anchor="middle" textLength="59.1" lengthAdjust="spacingAndGlyphs" transform="rotate(-90 296.40 299.20)" >Normalized to mode</text>
<path d="M329.50,427.20 L330.50,426.63 L334.00,421.55 L337.90,411.94 L340.80,400.65 L342.30,383.13 L344.60,390.48 L346.50,410.25 L349.40,426.07 L351.00,427.20" fill="none" stroke="#2a5d8f" stroke-width="1.25" stroke-linejoin="round"/>
<path d="M335.50,427.20 L336.50,426.63 L339.80,419.86 L342.70,410.25 L345.60,391.61 L347.50,398.39 L349.40,413.07 L351.30,426.07 L353.00,427.20" fill="none" stroke="#c8203e" stroke-width="1.25" stroke-linejoin="round"/>
<line x1="314.80" y1="366.70" x2="314.80" y2="427.70" stroke="#000" stroke-width="1.1" />
<line x1="314.30" y1="427.20" x2="378.30" y2="427.20" stroke="#000" stroke-width="1.3" />
<line x1="312.20" y1="427.20" x2="314.80" y2="427.20" stroke="#000" stroke-width="0.7" />
<line x1="313.40" y1="421.55" x2="314.80" y2="421.55" stroke="#000" stroke-width="0.7" />
<line x1="313.40" y1="415.90" x2="314.80" y2="415.90" stroke="#000" stroke-width="0.7" />
<line x1="313.40" y1="410.25" x2="314.80" y2="410.25" stroke="#000" stroke-width="0.7" />
<line x1="312.20" y1="404.60" x2="314.80" y2="404.60" stroke="#000" stroke-width="0.7" />
<line x1="313.40" y1="398.95" x2="314.80" y2="398.95" stroke="#000" stroke-width="0.7" />
<line x1="313.40" y1="393.30" x2="314.80" y2="393.30" stroke="#000" stroke-width="0.7" />
<line x1="313.40" y1="387.65" x2="314.80" y2="387.65" stroke="#000" stroke-width="0.7" />
<line x1="312.20" y1="382.00" x2="314.80" y2="382.00" stroke="#000" stroke-width="0.7" />
<line x1="313.40" y1="376.35" x2="314.80" y2="376.35" stroke="#000" stroke-width="0.7" />
<line x1="313.40" y1="370.70" x2="314.80" y2="370.70" stroke="#000" stroke-width="0.7" />
<line x1="316.80" y1="427.20" x2="316.80" y2="428.70" stroke="#000" stroke-width="0.6" />
<line x1="319.28" y1="427.20" x2="319.28" y2="428.70" stroke="#000" stroke-width="0.6" />
<line x1="321.76" y1="427.20" x2="321.76" y2="428.70" stroke="#000" stroke-width="0.6" />
<line x1="324.24" y1="427.20" x2="324.24" y2="428.70" stroke="#000" stroke-width="0.6" />
<line x1="326.72" y1="427.20" x2="326.72" y2="428.70" stroke="#000" stroke-width="0.6" />
<line x1="329.20" y1="427.20" x2="329.20" y2="428.70" stroke="#000" stroke-width="0.6" />
<line x1="331.68" y1="427.20" x2="331.68" y2="428.70" stroke="#000" stroke-width="0.6" />
<line x1="334.15" y1="427.20" x2="334.15" y2="428.70" stroke="#000" stroke-width="0.6" />
<line x1="336.63" y1="427.20" x2="336.63" y2="428.70" stroke="#000" stroke-width="0.6" />
<line x1="339.11" y1="427.20" x2="339.11" y2="428.70" stroke="#000" stroke-width="0.6" />
<line x1="341.59" y1="427.20" x2="341.59" y2="428.70" stroke="#000" stroke-width="0.6" />
<line x1="344.07" y1="427.20" x2="344.07" y2="428.70" stroke="#000" stroke-width="0.6" />
<line x1="346.55" y1="427.20" x2="346.55" y2="428.70" stroke="#000" stroke-width="0.6" />
<line x1="349.03" y1="427.20" x2="349.03" y2="428.70" stroke="#000" stroke-width="0.6" />
<line x1="351.51" y1="427.20" x2="351.51" y2="428.70" stroke="#000" stroke-width="0.6" />
<line x1="353.99" y1="427.20" x2="353.99" y2="428.70" stroke="#000" stroke-width="0.6" />
<line x1="356.47" y1="427.20" x2="356.47" y2="428.70" stroke="#000" stroke-width="0.6" />
<line x1="358.95" y1="427.20" x2="358.95" y2="428.70" stroke="#000" stroke-width="0.6" />
<line x1="361.43" y1="427.20" x2="361.43" y2="428.70" stroke="#000" stroke-width="0.6" />
<line x1="363.90" y1="427.20" x2="363.90" y2="428.70" stroke="#000" stroke-width="0.6" />
<line x1="366.38" y1="427.20" x2="366.38" y2="428.70" stroke="#000" stroke-width="0.6" />
<line x1="368.86" y1="427.20" x2="368.86" y2="428.70" stroke="#000" stroke-width="0.6" />
<line x1="371.34" y1="427.20" x2="371.34" y2="428.70" stroke="#000" stroke-width="0.6" />
<line x1="373.82" y1="427.20" x2="373.82" y2="428.70" stroke="#000" stroke-width="0.6" />
<line x1="376.30" y1="427.20" x2="376.30" y2="428.70" stroke="#000" stroke-width="0.6" />
<rect x="317.30" y="426.60" width="7.00" height="2.60" fill="#000" stroke="none" stroke-width="1" />
<rect x="315.80" y="427.00" width="1.00" height="2.40" fill="#000" stroke="none" stroke-width="1" />
<rect x="317.90" y="427.00" width="1.00" height="2.40" fill="#000" stroke="none" stroke-width="1" />
<rect x="320.00" y="427.00" width="1.00" height="2.40" fill="#000" stroke="none" stroke-width="1" />
<rect x="322.10" y="427.00" width="1.00" height="2.40" fill="#000" stroke="none" stroke-width="1" />
<rect x="324.20" y="427.00" width="1.00" height="2.40" fill="#000" stroke="none" stroke-width="1" />
<rect x="326.30" y="427.00" width="1.00" height="2.40" fill="#000" stroke="none" stroke-width="1" />
<text x="308.30" y="429.50" font-size="6.6" fill="#231f20" text-anchor="end" textLength="3.35" lengthAdjust="spacingAndGlyphs" >0</text>
<text x="308.30" y="406.90" font-size="6.6" fill="#231f20" text-anchor="end" textLength="6.7" lengthAdjust="spacingAndGlyphs" >40</text>
<text x="308.30" y="384.30" font-size="6.6" fill="#231f20" text-anchor="end" textLength="6.7" lengthAdjust="spacingAndGlyphs" >80</text>
<text x="327.40" y="439.00" font-size="6.2" fill="#231f20" text-anchor="middle" >0</text>
<text x="371.00" y="439.00" font-size="6.2" fill="#231f20" text-anchor="middle" >10<tspan font-size="4.2" dy="-2.6">3</tspan></text>
<text x="346.40" y="450.60" font-size="8.7" fill="#231f20" text-anchor="middle" textLength="12" lengthAdjust="spacingAndGlyphs" >ROS</text>
<text x="296.40" y="395.90" font-size="8.3" fill="#231f20" text-anchor="middle" textLength="61.5" lengthAdjust="spacingAndGlyphs" transform="rotate(-90 296.40 395.90)" >Normalized to mode</text>
<rect x="326.90" y="456.20" width="8.40" height="8.40" fill="#e6f2fb" stroke="#6c7c98" stroke-width="1.8" />
<rect x="326.90" y="469.20" width="8.40" height="8.40" fill="#fbe8ec" stroke="#b06b7b" stroke-width="1.8" />
<text x="340.30" y="462.60" font-size="6.2" fill="#231f20" textLength="26" lengthAdjust="spacingAndGlyphs" >+ CXCL14</text>
<text x="340.30" y="475.30" font-size="6.2" fill="#231f20" textLength="15" lengthAdjust="spacingAndGlyphs" >+ PBS</text>
<text x="402.30" y="221.60" font-size="11.2" fill="#000" font-weight="bold" >F</text>
<text x="479.50" y="219.10" font-size="8.6" fill="#231f20" text-anchor="middle" textLength="53.4" lengthAdjust="spacingAndGlyphs" >Mitochondrial</text>
<text x="479.30" y="229.30" font-size="8.6" fill="#231f20" text-anchor="middle" textLength="19.2" lengthAdjust="spacingAndGlyphs" >mass</text>
<text x="479.00" y="360.00" font-size="8.6" fill="#231f20" text-anchor="middle" textLength="17.3" lengthAdjust="spacingAndGlyphs" >ROS</text>
<rect x="456.20" y="295.71" width="17.60" height="34.19" fill="#8a9cca" stroke="none" stroke-width="1" />
<rect x="484.80" y="301.87" width="17.60" height="28.03" fill="#e8887a" stroke="none" stroke-width="1" />
<line x1="465.00" y1="276.92" x2="493.60" y2="268.92" stroke="#1d3a66" stroke-width="0.9" />
<line x1="465.00" y1="287.40" x2="493.60" y2="297.87" stroke="#1d3a66" stroke-width="0.9" />
<line x1="465.00" y1="288.63" x2="493.60" y2="312.65" stroke="#1d3a66" stroke-width="0.9" />
<line x1="465.00" y1="325.59" x2="493.60" y2="324.97" stroke="#1d3a66" stroke-width="0.9" />
<circle cx="465.00" cy="276.92" r="1.7" fill="#1d3a66" />
<circle cx="493.60" cy="268.92" r="1.7" fill="#1d3a66" />
<circle cx="465.00" cy="287.40" r="1.7" fill="#1d3a66" />
<circle cx="493.60" cy="297.87" r="1.7" fill="#1d3a66" />
<circle cx="465.00" cy="288.63" r="1.7" fill="#1d3a66" />
<circle cx="493.60" cy="312.65" r="1.7" fill="#1d3a66" />
<circle cx="465.00" cy="325.59" r="1.7" fill="#1d3a66" />
<circle cx="493.60" cy="324.97" r="1.7" fill="#1d3a66" />
<line x1="445.60" y1="236.50" x2="445.60" y2="330.50" stroke="#231f20" stroke-width="1.1" />
<line x1="445.10" y1="329.90" x2="513.30" y2="329.90" stroke="#231f20" stroke-width="1.1" />
<line x1="443.00" y1="329.90" x2="445.60" y2="329.90" stroke="#231f20" stroke-width="0.9" />
<text x="439.40" y="332.30" font-size="6.5" fill="#231f20" text-anchor="end" textLength="3.32" lengthAdjust="spacingAndGlyphs" >0</text>
<line x1="443.00" y1="299.10" x2="445.60" y2="299.10" stroke="#231f20" stroke-width="0.9" />
<text x="439.40" y="301.50" font-size="6.5" fill="#231f20" text-anchor="end" textLength="9.959999999999999" lengthAdjust="spacingAndGlyphs" >500</text>
<line x1="443.00" y1="268.30" x2="445.60" y2="268.30" stroke="#231f20" stroke-width="0.9" />
<text x="439.40" y="270.70" font-size="6.5" fill="#231f20" text-anchor="end" textLength="13.28" lengthAdjust="spacingAndGlyphs" >1000</text>
<line x1="443.00" y1="237.50" x2="445.60" y2="237.50" stroke="#231f20" stroke-width="0.9" />
<text x="439.40" y="239.90" font-size="6.5" fill="#231f20" text-anchor="end" textLength="13.28" lengthAdjust="spacingAndGlyphs" >1500</text>
<line x1="465.00" y1="329.90" x2="465.00" y2="332.10" stroke="#231f20" stroke-width="0.9" />
<line x1="493.60" y1="329.90" x2="493.60" y2="332.10" stroke="#231f20" stroke-width="0.9" />
<text x="479.30" y="247.40" font-size="6.2" fill="#231f20" text-anchor="middle" >0.62</text>
<path d="M465.00,255.00 L465.00,250.50 L493.60,250.50 L493.60,255.00" fill="none" stroke="#231f20" stroke-width="0.8" />
<rect x="456.20" y="442.08" width="17.60" height="17.52" fill="#8a9cca" stroke="none" stroke-width="1" />
<rect x="484.80" y="445.16" width="17.60" height="14.44" fill="#e8887a" stroke="none" stroke-width="1" />
<line x1="465.00" y1="401.21" x2="493.60" y2="415.34" stroke="#1d3a66" stroke-width="0.9" />
<line x1="465.00" y1="438.70" x2="493.60" y2="438.70" stroke="#1d3a66" stroke-width="0.9" />
<line x1="465.00" y1="451.61" x2="493.60" y2="454.68" stroke="#1d3a66" stroke-width="0.9" />
<line x1="465.00" y1="455.91" x2="493.60" y2="456.53" stroke="#1d3a66" stroke-width="0.9" />
<line x1="465.00" y1="458.06" x2="493.60" y2="458.68" stroke="#1d3a66" stroke-width="0.9" />
<circle cx="465.00" cy="401.21" r="1.7" fill="#1d3a66" />
<circle cx="493.60" cy="415.34" r="1.7" fill="#1d3a66" />
<circle cx="465.00" cy="438.70" r="1.7" fill="#1d3a66" />
<circle cx="493.60" cy="438.70" r="1.7" fill="#1d3a66" />
<circle cx="465.00" cy="451.61" r="1.7" fill="#1d3a66" />
<circle cx="493.60" cy="454.68" r="1.7" fill="#1d3a66" />
<circle cx="465.00" cy="455.91" r="1.7" fill="#1d3a66" />
<circle cx="493.60" cy="456.53" r="1.7" fill="#1d3a66" />
<circle cx="465.00" cy="458.06" r="1.7" fill="#1d3a66" />
<circle cx="493.60" cy="458.68" r="1.7" fill="#1d3a66" />
<line x1="445.60" y1="366.40" x2="445.60" y2="460.20" stroke="#231f20" stroke-width="1.1" />
<line x1="445.10" y1="459.60" x2="513.30" y2="459.60" stroke="#231f20" stroke-width="1.1" />
<line x1="443.00" y1="459.60" x2="445.60" y2="459.60" stroke="#231f20" stroke-width="0.9" />
<text x="439.40" y="462.00" font-size="6.5" fill="#231f20" text-anchor="end" textLength="3.32" lengthAdjust="spacingAndGlyphs" >0</text>
<line x1="443.00" y1="428.87" x2="445.60" y2="428.87" stroke="#231f20" stroke-width="0.9" />
<text x="439.40" y="431.27" font-size="6.5" fill="#231f20" text-anchor="end" textLength="13.28" lengthAdjust="spacingAndGlyphs" >5000</text>
<line x1="443.00" y1="398.13" x2="445.60" y2="398.13" stroke="#231f20" stroke-width="0.9" />
<text x="439.40" y="400.53" font-size="6.5" fill="#231f20" text-anchor="end" textLength="16.599999999999998" lengthAdjust="spacingAndGlyphs" >10000</text>
<line x1="443.00" y1="367.40" x2="445.60" y2="367.40" stroke="#231f20" stroke-width="0.9" />
<text x="439.40" y="369.80" font-size="6.5" fill="#231f20" text-anchor="end" textLength="16.599999999999998" lengthAdjust="spacingAndGlyphs" >15000</text>
<line x1="465.00" y1="459.60" x2="465.00" y2="461.80" stroke="#231f20" stroke-width="0.9" />
<line x1="493.60" y1="459.60" x2="493.60" y2="461.80" stroke="#231f20" stroke-width="0.9" />
<text x="479.30" y="376.40" font-size="6.2" fill="#d0203a" text-anchor="middle" >0.04</text>
<path d="M465.00,384.30 L465.00,380.00 L493.60,380.00 L493.60,384.30" fill="none" stroke="#231f20" stroke-width="0.8" />
<text x="464.20" y="341.60" font-size="6.4" fill="#231f20" text-anchor="middle" textLength="11" lengthAdjust="spacingAndGlyphs" >PBS</text>
<text x="493.60" y="341.60" font-size="6.4" fill="#231f20" text-anchor="middle" textLength="23" lengthAdjust="spacingAndGlyphs" >CXCL14</text>
<text x="464.20" y="471.80" font-size="6.4" fill="#231f20" text-anchor="middle" textLength="11" lengthAdjust="spacingAndGlyphs" >PBS</text>
<text x="493.60" y="471.80" font-size="6.4" fill="#231f20" text-anchor="middle" textLength="23" lengthAdjust="spacingAndGlyphs" >CXCL14</text>
<text x="408.90" y="282.50" font-size="7.6" fill="#231f20" text-anchor="middle" textLength="55.7" lengthAdjust="spacingAndGlyphs" transform="rotate(-90 408.90 282.50)" >MFI of mitotracker</text>
<text x="420.20" y="280.30" font-size="7.6" fill="#231f20" text-anchor="middle" textLength="74.3" lengthAdjust="spacingAndGlyphs" transform="rotate(-90 420.20 280.30)" >in CD34<tspan font-size="5" dy="-2.8">+</tspan><tspan dy="2.8">CD38</tspan><tspan font-size="5" dy="-2.8">−</tspan><tspan dy="2.8"> CML cells</tspan></text>
<text x="406.30" y="412.20" font-size="7.6" fill="#231f20" text-anchor="middle" textLength="41.9" lengthAdjust="spacingAndGlyphs" transform="rotate(-90 406.30 412.20)" >MFI of ROS in</text>
<text x="416.10" y="412.40" font-size="7.6" fill="#231f20" text-anchor="middle" textLength="70.4" lengthAdjust="spacingAndGlyphs" transform="rotate(-90 416.10 412.40)" >CD34<tspan font-size="5" dy="-2.8">+</tspan><tspan dy="2.8">CD38</tspan><tspan font-size="5" dy="-2.8">−</tspan><tspan dy="2.8"> CML cells</tspan></text>
<text x="43.00" y="500.20" font-size="11.2" fill="#000" font-weight="bold" >G</text>
<g transform="translate(61.5 490.8) scale(1.0)">
</g>
<g transform="rotate(-30 73.50 496.50)">
<ellipse cx="73.50" cy="496.50" rx="6.00" ry="6.00" fill="url(#cellg)" stroke="#d0105a" stroke-width="1.10"/>
<ellipse cx="72.50" cy="495.40" rx="1.50" ry="2.20" fill="#f4f6ff" stroke="#7080a8" stroke-width="0.80"/>
</g>
<g transform="rotate(10 82.60 501.80)">
<ellipse cx="82.60" cy="501.80" rx="5.40" ry="6.30" fill="url(#cellg)" stroke="#d0105a" stroke-width="1.10"/>
<ellipse cx="82.50" cy="501.40" rx="1.60" ry="2.00" fill="#f4f6ff" stroke="#7080a8" stroke-width="0.80"/>
</g>
<g transform="rotate(0 67.60 504.20)">
<ellipse cx="67.60" cy="504.20" rx="6.00" ry="7.00" fill="url(#cellg)" stroke="#d0105a" stroke-width="1.10"/>
<ellipse cx="66.50" cy="504.20" rx="1.40" ry="2.40" fill="#f4f6ff" stroke="#7080a8" stroke-width="0.80"/>
</g>
<g transform="rotate(0 75.90 508.10)">
<ellipse cx="75.90" cy="508.10" rx="4.60" ry="4.40" fill="url(#cellg)" stroke="#d0105a" stroke-width="1.10"/>
<ellipse cx="76.10" cy="507.00" rx="1.10" ry="1.10" fill="#f4f6ff" stroke="#7080a8" stroke-width="0.80"/>
</g>
<text x="76.40" y="524.60" font-size="6.3" fill="#231f20" text-anchor="middle" textLength="29.9" lengthAdjust="spacingAndGlyphs" >K562 cells</text>
<text x="106.80" y="506.20" font-size="6.3" fill="#231f20" textLength="16.2" lengthAdjust="spacingAndGlyphs" >+ PBS</text>
<text x="143.00" y="506.20" font-size="6.3" fill="#231f20" textLength="12.4" lengthAdjust="spacingAndGlyphs" >24h</text>
<line x1="99.40" y1="510.80" x2="171.90" y2="510.80" stroke="#231f20" stroke-width="1.2" />
<path d="M176.60,510.80 L171.60,508.70 L171.60,512.90 Z" fill="#231f20" stroke="none" stroke-width="1" />
<text x="106.80" y="524.60" font-size="6.3" fill="#231f20" textLength="59.4" lengthAdjust="spacingAndGlyphs" >+ CXCL14, 10ng/mL</text>
<rect x="176.70" y="493.60" width="87.90" height="31.60" fill="#fff" stroke="#333" stroke-width="1.2" />
<text x="180.60" y="502.60" font-size="6.8" fill="#231f20" textLength="68.2" lengthAdjust="spacingAndGlyphs" >Celltrace (CTV) staining</text>
<ellipse cx="191.80" cy="513.60" rx="4.3" ry="3.6" fill="url(#cellg2)" stroke="#d98282" stroke-width="1.0"/>
<ellipse cx="191.50" cy="513.20" rx="1.6" ry="1.3" fill="#fff" stroke="#c89090" stroke-width="0.6"/>
<ellipse cx="195.30" cy="517.30" rx="3.6" ry="3.8" fill="url(#cellg2)" stroke="#d98282" stroke-width="1.0"/>
<ellipse cx="195.50" cy="517.20" rx="1.4" ry="1.5" fill="#fff" stroke="#c89090" stroke-width="0.6"/>
<ellipse cx="187.60" cy="516.80" rx="5.0" ry="4.9" fill="url(#cellg2)" stroke="#d98282" stroke-width="1.0"/>
<ellipse cx="187.90" cy="516.60" rx="1.8" ry="2.0" fill="#fff" stroke="#c89090" stroke-width="0.6"/>
<text x="199.80" y="517.50" font-size="6.6" fill="#231f20" textLength="11.5" lengthAdjust="spacingAndGlyphs" >PBS</text>
<ellipse cx="230.00" cy="513.60" rx="4.3" ry="3.6" fill="url(#cellg)" stroke="#d0105a" stroke-width="1.0"/>
<ellipse cx="229.70" cy="513.20" rx="1.6" ry="1.3" fill="#fff" stroke="#8080b0" stroke-width="0.6"/>
<ellipse cx="233.50" cy="517.30" rx="3.6" ry="3.8" fill="url(#cellg)" stroke="#d0105a" stroke-width="1.0"/>
<ellipse cx="233.70" cy="517.20" rx="1.4" ry="1.5" fill="#fff" stroke="#8080b0" stroke-width="0.6"/>
<ellipse cx="225.80" cy="516.80" rx="5.0" ry="4.9" fill="url(#cellg)" stroke="#d0105a" stroke-width="1.0"/>
<ellipse cx="226.10" cy="516.60" rx="1.8" ry="2.0" fill="#fff" stroke="#8080b0" stroke-width="0.6"/>
<text x="237.70" y="517.50" font-size="6.6" fill="#231f20" textLength="23.1" lengthAdjust="spacingAndGlyphs" >CXCL14</text>
<line x1="264.20" y1="510.70" x2="274.90" y2="510.70" stroke="#231f20" stroke-width="1.2" />
<path d="M279.60,510.70 L274.60,508.60 L274.60,512.80 Z" fill="#231f20" stroke="none" stroke-width="1" />
<rect x="280.00" y="493.40" width="87.50" height="31.70" fill="#fff" stroke="#333" stroke-width="1.2" />
<text x="323.80" y="506.40" font-size="6.3" fill="#231f20" text-anchor="middle" textLength="38.5" lengthAdjust="spacingAndGlyphs" >Mix cells and</text>
<text x="324.20" y="516.40" font-size="6.3" fill="#231f20" text-anchor="middle" textLength="43.3" lengthAdjust="spacingAndGlyphs" >TMRM staining</text>
<line x1="367.50" y1="510.80" x2="378.20" y2="510.80" stroke="#231f20" stroke-width="1.2" />
<path d="M382.90,510.80 L377.90,508.70 L377.90,512.90 Z" fill="#231f20" stroke="none" stroke-width="1" />
<rect x="383.30" y="493.20" width="87.70" height="32.20" fill="#fff" stroke="#333" stroke-width="1.2" />
<text x="427.10" y="501.80" font-size="6.3" fill="#231f20" text-anchor="middle" textLength="59.2" lengthAdjust="spacingAndGlyphs" >Monitoring dynamic</text>
<text x="427.10" y="511.60" font-size="6.3" fill="#231f20" text-anchor="middle" textLength="59.2" lengthAdjust="spacingAndGlyphs" >changes of MMP by</text>
<text x="427.10" y="521.30" font-size="6.3" fill="#231f20" text-anchor="middle" textLength="16.2" lengthAdjust="spacingAndGlyphs" >FACS</text>
<text x="62.00" y="558.90" font-size="11.2" fill="#000" font-weight="bold" >H</text>
<text x="152.80" y="557.60" font-size="8.7" fill="#231f20" text-anchor="middle" textLength="82.0" lengthAdjust="spacingAndGlyphs" >cells post stimulation</text>
<rect x="104.30" y="561.90" width="97.60" height="91.00" fill="#fff" stroke="#000" stroke-width="1.1" />
<line x1="105.50" y1="652.90" x2="105.50" y2="654.70" stroke="#000" stroke-width="0.6" />
<line x1="108.79" y1="652.90" x2="108.79" y2="654.70" stroke="#000" stroke-width="0.6" />
<line x1="112.09" y1="652.90" x2="112.09" y2="654.70" stroke="#000" stroke-width="0.6" />
<line x1="115.38" y1="652.90" x2="115.38" y2="654.70" stroke="#000" stroke-width="0.6" />
<line x1="118.67" y1="652.90" x2="118.67" y2="654.70" stroke="#000" stroke-width="0.6" />
<line x1="121.97" y1="652.90" x2="121.97" y2="654.70" stroke="#000" stroke-width="0.6" />
<line x1="125.26" y1="652.90" x2="125.26" y2="654.70" stroke="#000" stroke-width="0.6" />
<line x1="128.55" y1="652.90" x2="128.55" y2="654.70" stroke="#000" stroke-width="0.6" />
<line x1="131.84" y1="652.90" x2="131.84" y2="654.70" stroke="#000" stroke-width="0.6" />
<line x1="135.14" y1="652.90" x2="135.14" y2="654.70" stroke="#000" stroke-width="0.6" />
<line x1="138.43" y1="652.90" x2="138.43" y2="654.70" stroke="#000" stroke-width="0.6" />
<line x1="141.72" y1="652.90" x2="141.72" y2="654.70" stroke="#000" stroke-width="0.6" />
<line x1="145.02" y1="652.90" x2="145.02" y2="654.70" stroke="#000" stroke-width="0.6" />
<line x1="148.31" y1="652.90" x2="148.31" y2="654.70" stroke="#000" stroke-width="0.6" />
<line x1="151.60" y1="652.90" x2="151.60" y2="654.70" stroke="#000" stroke-width="0.6" />
<line x1="154.90" y1="652.90" x2="154.90" y2="654.70" stroke="#000" stroke-width="0.6" />
<line x1="158.19" y1="652.90" x2="158.19" y2="654.70" stroke="#000" stroke-width="0.6" />
<line x1="161.48" y1="652.90" x2="161.48" y2="654.70" stroke="#000" stroke-width="0.6" />
<line x1="164.78" y1="652.90" x2="164.78" y2="654.70" stroke="#000" stroke-width="0.6" />
<line x1="168.07" y1="652.90" x2="168.07" y2="654.70" stroke="#000" stroke-width="0.6" />
<line x1="171.36" y1="652.90" x2="171.36" y2="654.70" stroke="#000" stroke-width="0.6" />
<line x1="174.66" y1="652.90" x2="174.66" y2="654.70" stroke="#000" stroke-width="0.6" />
<line x1="177.95" y1="652.90" x2="177.95" y2="654.70" stroke="#000" stroke-width="0.6" />
<line x1="181.24" y1="652.90" x2="181.24" y2="654.70" stroke="#000" stroke-width="0.6" />
<line x1="184.53" y1="652.90" x2="184.53" y2="654.70" stroke="#000" stroke-width="0.6" />
<line x1="187.83" y1="652.90" x2="187.83" y2="654.70" stroke="#000" stroke-width="0.6" />
<line x1="191.12" y1="652.90" x2="191.12" y2="654.70" stroke="#000" stroke-width="0.6" />
<line x1="194.41" y1="652.90" x2="194.41" y2="654.70" stroke="#000" stroke-width="0.6" />
<line x1="197.71" y1="652.90" x2="197.71" y2="654.70" stroke="#000" stroke-width="0.6" />
<line x1="201.00" y1="652.90" x2="201.00" y2="654.70" stroke="#000" stroke-width="0.6" />
<line x1="102.50" y1="563.00" x2="104.30" y2="563.00" stroke="#000" stroke-width="0.6" />
<line x1="102.50" y1="568.21" x2="104.30" y2="568.21" stroke="#000" stroke-width="0.6" />
<line x1="102.50" y1="573.41" x2="104.30" y2="573.41" stroke="#000" stroke-width="0.6" />
<line x1="102.50" y1="578.62" x2="104.30" y2="578.62" stroke="#000" stroke-width="0.6" />
<line x1="102.50" y1="583.82" x2="104.30" y2="583.82" stroke="#000" stroke-width="0.6" />
<line x1="102.50" y1="589.03" x2="104.30" y2="589.03" stroke="#000" stroke-width="0.6" />
<line x1="102.50" y1="594.24" x2="104.30" y2="594.24" stroke="#000" stroke-width="0.6" />
<line x1="102.50" y1="599.44" x2="104.30" y2="599.44" stroke="#000" stroke-width="0.6" />
<line x1="102.50" y1="604.65" x2="104.30" y2="604.65" stroke="#000" stroke-width="0.6" />
<line x1="102.50" y1="609.85" x2="104.30" y2="609.85" stroke="#000" stroke-width="0.6" />
<line x1="102.50" y1="615.06" x2="104.30" y2="615.06" stroke="#000" stroke-width="0.6" />
<line x1="102.50" y1="620.26" x2="104.30" y2="620.26" stroke="#000" stroke-width="0.6" />
<line x1="102.50" y1="625.47" x2="104.30" y2="625.47" stroke="#000" stroke-width="0.6" />
<line x1="102.50" y1="630.68" x2="104.30" y2="630.68" stroke="#000" stroke-width="0.6" />
<line x1="102.50" y1="635.88" x2="104.30" y2="635.88" stroke="#000" stroke-width="0.6" />
<line x1="102.50" y1="641.09" x2="104.30" y2="641.09" stroke="#000" stroke-width="0.6" />
<line x1="102.50" y1="646.29" x2="104.30" y2="646.29" stroke="#000" stroke-width="0.6" />
<line x1="102.50" y1="651.50" x2="104.30" y2="651.50" stroke="#000" stroke-width="0.6" />
<rect x="102.60" y="629.70" width="3.00" height="4.00" fill="#000" stroke="none" stroke-width="1" />
<rect x="106.40" y="572.50" width="83.50" height="39.80" fill="none" stroke="#c596bf" stroke-width="1.0" />
<rect x="106.40" y="615.30" width="84.00" height="33.60" fill="none" stroke="#c596bf" stroke-width="1.0" />
<path d="M115.6,600 C114.5,591 125,583.5 138,584 C149,584.5 156.5,590 157,597.5 C157.5,605 149,610 139,610 C127,610 116.5,607 115.6,600 Z" fill="#f2f2f2" stroke="#b8b8b8" stroke-width="0.5"/>
<path d="M117.5,600 C116.5,592 126,585.5 137.5,586 C146,586.5 151,590.5 151.5,596 C152,602 146,607.5 138,607.5 C127.5,607.5 118.5,605.5 117.5,600 Z" fill="#e6e6e6" stroke="#aaa" stroke-width="0.45"/>
<ellipse cx="128.6" cy="593.2" rx="11.5" ry="6.8" fill="none" stroke="#999" stroke-width="0.45" transform="rotate(-22 128.6 593.2)"/>
<ellipse cx="128.6" cy="593.2" rx="10.5" ry="5.8" fill="none" stroke="#999" stroke-width="0.45" transform="rotate(-22 128.6 593.2)"/>
<ellipse cx="128.6" cy="593.2" rx="9.5" ry="4.9" fill="none" stroke="#666" stroke-width="0.45" transform="rotate(-22 128.6 593.2)"/>
<ellipse cx="128.6" cy="593.2" rx="8.4" ry="4.0" fill="none" stroke="#666" stroke-width="0.45" transform="rotate(-22 128.6 593.2)"/>
<ellipse cx="128.3" cy="593.4" rx="7.4" ry="3.3" fill="#8a8a8a" stroke="#444" stroke-width="0.6" transform="rotate(-22 128.3 593.4)"/>
<ellipse cx="129.0" cy="593.0" rx="4.8" ry="1.5" fill="#d8d8d8" transform="rotate(-22 129 593)"/>
<path d="M130.0,609.0 L138.0,600.0" stroke="#c8c8c8" stroke-width="0.4"/>
<path d="M132.2,608.5 L140.5,599.2" stroke="#c8c8c8" stroke-width="0.4"/>
<path d="M134.4,608.0 L143.0,598.4" stroke="#c8c8c8" stroke-width="0.4"/>
<path d="M136.6,607.5 L145.5,597.6" stroke="#c8c8c8" stroke-width="0.4"/>
<path d="M138.8,607.0 L148.0,596.8" stroke="#c8c8c8" stroke-width="0.4"/>
<rect x="141.20" y="587.30" width="12.50" height="9.80" fill="#fff" stroke="none" stroke-width="1" rx="2"/>
<ellipse cx="136.3" cy="627.4" rx="20.8" ry="8.3" fill="#f1f1f1" stroke="#bbb" stroke-width="0.5" transform="rotate(-8 136.3 627.4)"/>
<ellipse cx="133.5" cy="628.0" rx="17.0" ry="6.6" fill="#e2e2e2" stroke="#a8a8a8" stroke-width="0.45" transform="rotate(-8 133.5 628)"/>
<ellipse cx="130.4" cy="628.6" rx="14.2" ry="5.6" fill="none" stroke="#777" stroke-width="0.45" transform="rotate(-8 130.4 628.6)"/>
<ellipse cx="130.4" cy="628.6" rx="13.0" ry="4.8" fill="none" stroke="#777" stroke-width="0.45" transform="rotate(-8 130.4 628.6)"/>
<ellipse cx="130.4" cy="628.6" rx="11.8" ry="4.1" fill="none" stroke="#777" stroke-width="0.45" transform="rotate(-8 130.4 628.6)"/>
<ellipse cx="130.0" cy="628.8" rx="10.6" ry="3.6" fill="#8a8a8a" stroke="#444" stroke-width="0.6" transform="rotate(-8 130 628.8)"/>
<ellipse cx="131.5" cy="629.3" rx="6.8" ry="1.5" fill="#e8e8e8" transform="rotate(-8 131.5 629.3)"/>
<rect x="142.40" y="625.30" width="10.50" height="9.80" fill="#fff" stroke="none" stroke-width="1" rx="2"/>
<ellipse cx="168.8" cy="593.3" rx="6.1" ry="4.2" fill="#e8b8c0" stroke="#b87080" stroke-width="1.0"/>
<ellipse cx="168.8" cy="593.3" rx="3.6" ry="2.3" fill="#f6dde2" stroke="#d49aa6" stroke-width="0.7"/>
<circle cx="168.60" cy="593.30" r="1.1" fill="#fff" />
<ellipse cx="168.8" cy="625.7" rx="6.1" ry="3.9" fill="#f08cb8" stroke="#d0186a" stroke-width="1.3"/>
<ellipse cx="168.4" cy="625.6" rx="3.0" ry="2.1" fill="#c8c8ec" stroke="#6a70b8" stroke-width="0.9"/>
<circle cx="168.20" cy="625.50" r="1.0" fill="#fff" />
<text x="152.30" y="582.40" font-size="6.6" fill="#231f20" textLength="17" lengthAdjust="spacingAndGlyphs" >+ PBS</text>
<text x="146.20" y="643.20" font-size="6.6" fill="#231f20" textLength="29.2" lengthAdjust="spacingAndGlyphs" >+ CXCL14</text>
<text x="147.50" y="591.50" font-size="3.9" fill="#333" text-anchor="middle" font-weight="bold" >CTV+</text>
<text x="147.60" y="596.40" font-size="3.9" fill="#333" text-anchor="middle" font-weight="bold" >49.8</text>
<text x="147.00" y="629.20" font-size="3.9" fill="#333" text-anchor="middle" font-weight="bold" >CTV-</text>
<text x="147.00" y="634.00" font-size="3.9" fill="#333" text-anchor="middle" font-weight="bold" >49.7</text>
<text x="89.00" y="573.90" font-size="6.0" fill="#231f20" >10<tspan font-size="3.9" dy="-2">5</tspan></text>
<text x="89.00" y="594.60" font-size="6.0" fill="#231f20" >10<tspan font-size="3.9" dy="-2">4</tspan></text>
<text x="89.00" y="619.30" font-size="6.0" fill="#231f20" >10<tspan font-size="3.9" dy="-2">3</tspan></text>
<text x="98.50" y="634.60" font-size="6.0" fill="#231f20" text-anchor="end" >0</text>
<text x="87.00" y="649.60" font-size="6.0" fill="#231f20" >−10<tspan font-size="3.9" dy="-2">3</tspan></text>
<text x="104.50" y="665.80" font-size="6.4" fill="#231f20" text-anchor="middle" textLength="3.0" lengthAdjust="spacingAndGlyphs" >0</text>
<text x="123.00" y="665.80" font-size="6.4" fill="#231f20" text-anchor="middle" textLength="10.5" lengthAdjust="spacingAndGlyphs" >50K</text>
<text x="141.60" y="665.80" font-size="6.4" fill="#231f20" text-anchor="middle" textLength="13.8" lengthAdjust="spacingAndGlyphs" >100K</text>
<text x="159.80" y="665.80" font-size="6.4" fill="#231f20" text-anchor="middle" textLength="13.8" lengthAdjust="spacingAndGlyphs" >150K</text>
<text x="177.50" y="665.80" font-size="6.4" fill="#231f20" text-anchor="middle" textLength="13.8" lengthAdjust="spacingAndGlyphs" >200K</text>
<text x="195.40" y="665.80" font-size="6.4" fill="#231f20" text-anchor="middle" textLength="13.8" lengthAdjust="spacingAndGlyphs" >250K</text>
<text x="152.50" y="678.30" font-size="8.6" fill="#231f20" text-anchor="middle" textLength="18.2" lengthAdjust="spacingAndGlyphs" >SSC-A</text>
<text x="82.00" y="607.60" font-size="8.0" fill="#231f20" text-anchor="middle" textLength="47.7" lengthAdjust="spacingAndGlyphs" transform="rotate(-90 82.00 607.60)" >CellTracer violet</text>
<line x1="183.90" y1="593.40" x2="217.80" y2="593.40" stroke="#231f20" stroke-width="1.1" />
<path d="M223.00,593.40 L217.50,591.10 L217.50,595.70 Z" fill="#231f20" stroke="none" stroke-width="1" />
<line x1="183.90" y1="625.60" x2="217.80" y2="625.60" stroke="#231f20" stroke-width="1.1" />
<path d="M223.00,625.60 L217.50,623.30 L217.50,627.90 Z" fill="#231f20" stroke="none" stroke-width="1" />
<rect x="262.40" y="553.00" width="28.50" height="116.80" fill="#c3c6dd" stroke="none" stroke-width="1" />
<rect x="306.60" y="553.00" width="34.30" height="116.80" fill="#d8ead0" stroke="none" stroke-width="1" />
<rect x="359.50" y="553.00" width="43.90" height="116.80" fill="#f5cde0" stroke="none" stroke-width="1" />
<line x1="290.90" y1="553.00" x2="290.90" y2="669.80" stroke="#222" stroke-width="1.0" />
<line x1="306.60" y1="553.00" x2="306.60" y2="669.80" stroke="#222" stroke-width="1.0" />
<line x1="340.90" y1="553.00" x2="340.90" y2="669.80" stroke="#222" stroke-width="1.0" />
<line x1="359.50" y1="553.00" x2="359.50" y2="669.80" stroke="#222" stroke-width="1.0" />
<rect x="262.40" y="553.00" width="141.00" height="116.80" fill="none" stroke="#222" stroke-width="1.1" />
<path d="M262.40,647.80 L268.00,657.60 L272.90,656.60 L279.40,656.60 L289.20,663.10" fill="none" stroke="#2a5a8a" stroke-width="1.1" stroke-linejoin="round"/>
<path d="M262.40,656.00 L268.00,664.10 L274.50,659.20 L279.40,664.10 L289.20,667.40" fill="none" stroke="#c8203e" stroke-width="1.1" stroke-linejoin="round"/>
<path d="M307.20,571.60 L310.50,574.20 L315.40,570.30 L318.60,570.30 L321.90,567.70 L324.50,561.20 L328.50,560.50 L333.40,558.50 L336.60,560.50" fill="none" stroke="#c8203e" stroke-width="1.1" stroke-linejoin="round"/>
<path d="M307.20,580.80 L312.10,582.40 L317.00,584.00 L320.30,580.80 L325.20,571.00 L328.50,568.30 L333.40,579.10 L336.60,576.80" fill="none" stroke="#2a6a6a" stroke-width="1.1" stroke-linejoin="round"/>
<path d="M359.50,611.80 L364.40,615.10 L369.30,618.40 L372.60,606.90 L377.50,624.90 L382.40,628.20 L385.70,642.90 L390.60,641.20 L393.80,641.20 L398.70,633.10" fill="none" stroke="#c8203e" stroke-width="1.1" stroke-linejoin="round"/>
<path d="M359.50,624.90 L364.40,622.60 L369.30,620.00 L372.60,611.80 L377.50,641.20 L380.80,618.40 L385.70,659.20 L390.60,649.40 L393.80,644.50 L398.70,644.50" fill="none" stroke="#2a5a8a" stroke-width="1.1" stroke-linejoin="round"/>
<line x1="262.40" y1="669.80" x2="262.40" y2="671.10" stroke="#222" stroke-width="0.6" />
<line x1="266.94" y1="669.80" x2="266.94" y2="671.10" stroke="#222" stroke-width="0.6" />
<line x1="271.48" y1="669.80" x2="271.48" y2="671.10" stroke="#222" stroke-width="0.6" />
<line x1="276.02" y1="669.80" x2="276.02" y2="671.10" stroke="#222" stroke-width="0.6" />
<line x1="280.56" y1="669.80" x2="280.56" y2="671.10" stroke="#222" stroke-width="0.6" />
<line x1="285.10" y1="669.80" x2="285.10" y2="671.10" stroke="#222" stroke-width="0.6" />
<line x1="289.64" y1="669.80" x2="289.64" y2="671.10" stroke="#222" stroke-width="0.6" />
<line x1="294.18" y1="669.80" x2="294.18" y2="671.10" stroke="#222" stroke-width="0.6" />
<line x1="298.72" y1="669.80" x2="298.72" y2="671.10" stroke="#222" stroke-width="0.6" />
<line x1="303.26" y1="669.80" x2="303.26" y2="671.10" stroke="#222" stroke-width="0.6" />
<line x1="307.80" y1="669.80" x2="307.80" y2="671.10" stroke="#222" stroke-width="0.6" />
<line x1="312.34" y1="669.80" x2="312.34" y2="671.10" stroke="#222" stroke-width="0.6" />
<line x1="316.88" y1="669.80" x2="316.88" y2="671.10" stroke="#222" stroke-width="0.6" />
<line x1="321.42" y1="669.80" x2="321.42" y2="671.10" stroke="#222" stroke-width="0.6" />
<line x1="325.96" y1="669.80" x2="325.96" y2="671.10" stroke="#222" stroke-width="0.6" />
<line x1="330.50" y1="669.80" x2="330.50" y2="671.10" stroke="#222" stroke-width="0.6" />
<line x1="335.04" y1="669.80" x2="335.04" y2="671.10" stroke="#222" stroke-width="0.6" />
<line x1="339.58" y1="669.80" x2="339.58" y2="671.10" stroke="#222" stroke-width="0.6" />
<line x1="344.12" y1="669.80" x2="344.12" y2="671.10" stroke="#222" stroke-width="0.6" />
<line x1="348.66" y1="669.80" x2="348.66" y2="671.10" stroke="#222" stroke-width="0.6" />
<line x1="353.20" y1="669.80" x2="353.20" y2="671.10" stroke="#222" stroke-width="0.6" />
<line x1="357.74" y1="669.80" x2="357.74" y2="671.10" stroke="#222" stroke-width="0.6" />
<line x1="362.28" y1="669.80" x2="362.28" y2="671.10" stroke="#222" stroke-width="0.6" />
<line x1="366.82" y1="669.80" x2="366.82" y2="671.10" stroke="#222" stroke-width="0.6" />
<line x1="371.36" y1="669.80" x2="371.36" y2="671.10" stroke="#222" stroke-width="0.6" />
<line x1="375.90" y1="669.80" x2="375.90" y2="671.10" stroke="#222" stroke-width="0.6" />
<line x1="380.44" y1="669.80" x2="380.44" y2="671.10" stroke="#222" stroke-width="0.6" />
<line x1="384.98" y1="669.80" x2="384.98" y2="671.10" stroke="#222" stroke-width="0.6" />
<line x1="389.52" y1="669.80" x2="389.52" y2="671.10" stroke="#222" stroke-width="0.6" />
<line x1="394.06" y1="669.80" x2="394.06" y2="671.10" stroke="#222" stroke-width="0.6" />
<line x1="398.60" y1="669.80" x2="398.60" y2="671.10" stroke="#222" stroke-width="0.6" />
<line x1="403.14" y1="669.80" x2="403.14" y2="671.10" stroke="#222" stroke-width="0.6" />
<line x1="308.20" y1="669.80" x2="308.20" y2="672.30" stroke="#222" stroke-width="0.8" />
<line x1="354.00" y1="669.80" x2="354.00" y2="672.30" stroke="#222" stroke-width="0.8" />
<line x1="398.70" y1="669.80" x2="398.70" y2="672.30" stroke="#222" stroke-width="0.8" />
<line x1="259.90" y1="582.50" x2="262.40" y2="582.50" stroke="#222" stroke-width="0.8" />
<line x1="259.90" y1="619.40" x2="262.40" y2="619.40" stroke="#222" stroke-width="0.8" />
<line x1="259.90" y1="656.70" x2="262.40" y2="656.70" stroke="#222" stroke-width="0.8" />
<line x1="261.00" y1="554.81" x2="262.40" y2="554.81" stroke="#222" stroke-width="0.6" />
<line x1="261.00" y1="564.04" x2="262.40" y2="564.04" stroke="#222" stroke-width="0.6" />
<line x1="261.00" y1="573.27" x2="262.40" y2="573.27" stroke="#222" stroke-width="0.6" />
<line x1="261.00" y1="591.73" x2="262.40" y2="591.73" stroke="#222" stroke-width="0.6" />
<line x1="261.00" y1="600.96" x2="262.40" y2="600.96" stroke="#222" stroke-width="0.6" />
<line x1="261.00" y1="610.19" x2="262.40" y2="610.19" stroke="#222" stroke-width="0.6" />
<line x1="261.00" y1="628.65" x2="262.40" y2="628.65" stroke="#222" stroke-width="0.6" />
<line x1="261.00" y1="637.88" x2="262.40" y2="637.88" stroke="#222" stroke-width="0.6" />
<line x1="261.00" y1="647.11" x2="262.40" y2="647.11" stroke="#222" stroke-width="0.6" />
<line x1="261.00" y1="665.57" x2="262.40" y2="665.57" stroke="#222" stroke-width="0.6" />
<text x="256.80" y="584.60" font-size="6.2" fill="#231f20" text-anchor="end" >50K</text>
<text x="256.80" y="621.50" font-size="6.2" fill="#231f20" text-anchor="end" >40K</text>
<text x="256.80" y="658.80" font-size="6.2" fill="#231f20" text-anchor="end" >30K</text>
<text x="308.20" y="682.60" font-size="6.4" fill="#231f20" text-anchor="middle" >20</text>
<text x="354.00" y="682.60" font-size="6.4" fill="#231f20" text-anchor="middle" >40</text>
<text x="398.70" y="682.60" font-size="6.4" fill="#231f20" text-anchor="middle" >60</text>
<text x="332.90" y="695.30" font-size="8.2" fill="#231f20" text-anchor="middle" textLength="25.2" lengthAdjust="spacingAndGlyphs" >Time (s)</text>
<text x="239.60" y="611.40" font-size="8.0" fill="#231f20" text-anchor="middle" textLength="53.7" lengthAdjust="spacingAndGlyphs" transform="rotate(-90 239.60 611.40)" >MMP, TMRM MFI</text>
<text x="276.50" y="548.20" font-size="6.4" fill="#231f20" text-anchor="middle" textLength="19" lengthAdjust="spacingAndGlyphs" >TMRM</text>
<text x="324.00" y="541.60" font-size="6.4" fill="#231f20" text-anchor="middle" textLength="25.1" lengthAdjust="spacingAndGlyphs" >Pyruvate</text>
<text x="323.90" y="548.80" font-size="6.4" fill="#231f20" text-anchor="middle" textLength="23.5" lengthAdjust="spacingAndGlyphs" >/malate</text>
<text x="380.80" y="548.20" font-size="6.4" fill="#231f20" text-anchor="middle" textLength="16.4" lengthAdjust="spacingAndGlyphs" >FCCP</text>
<line x1="303.90" y1="535.50" x2="303.90" y2="548.00" stroke="#c8102e" stroke-width="1.1" />
<path d="M303.90,552.00 L301.42,547.50 L306.38,547.50 Z" fill="#c8102e" stroke="none" stroke-width="1" />
<line x1="358.90" y1="535.50" x2="358.90" y2="548.00" stroke="#c8102e" stroke-width="1.1" />
<path d="M358.90,552.00 L356.42,547.50 L361.38,547.50 Z" fill="#c8102e" stroke="none" stroke-width="1" />
<line x1="413.40" y1="606.50" x2="429.50" y2="606.50" stroke="#c8203e" stroke-width="1.2" />
<line x1="413.40" y1="616.50" x2="429.50" y2="616.50" stroke="#2a5a8a" stroke-width="1.2" />
<text x="432.80" y="608.70" font-size="6.4" fill="#231f20" textLength="15.7" lengthAdjust="spacingAndGlyphs" >+ PBS</text>
<text x="432.80" y="618.70" font-size="6.4" fill="#231f20" textLength="29" lengthAdjust="spacingAndGlyphs" >+ CXCL14</text>
</svg></body></html>
